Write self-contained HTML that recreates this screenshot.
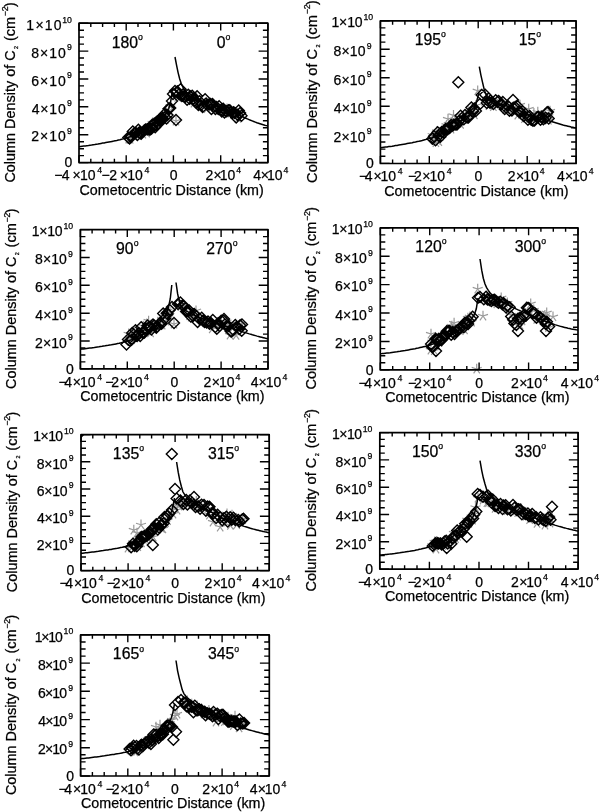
<!DOCTYPE html>
<html lang="en"><head><meta charset="utf-8"><title>Column Density of C2 vs Cometocentric Distance</title>
<style>html,body{margin:0;padding:0;background:#fff}body{width:600px;height:812px;overflow:hidden}svg{display:block}text{font-family:"Liberation Sans", Arial, Helvetica, sans-serif;fill:#000;stroke:#000;stroke-width:0.25px}</style></head><body>
<svg width="600" height="812" viewBox="0 0 600 812">
<rect width="600" height="812" fill="#fff"/>
<g>
<path d="M128.7 139.0L128.7 133.7M128.7 139.0L123.6 137.4M128.7 139.0L125.6 143.3M128.7 139.0L131.8 143.3M128.7 139.0L133.7 137.4 M130.1 139.3L130.1 134.0M130.1 139.3L125.1 137.6M130.1 139.3L127.0 143.5M130.1 139.3L133.3 143.5M130.1 139.3L135.2 137.6 M132.3 135.7L132.3 130.4M132.3 135.7L127.3 134.1M132.3 135.7L129.2 140.0M132.3 135.7L135.5 140.0M132.3 135.7L137.4 134.1 M134.0 136.1L134.0 130.8M134.0 136.1L129.0 134.4M134.0 136.1L130.9 140.4M134.0 136.1L137.1 140.4M134.0 136.1L139.1 134.4 M135.3 134.4L135.3 129.1M135.3 134.4L130.2 132.7M135.3 134.4L132.1 138.7M135.3 134.4L138.4 138.7M135.3 134.4L140.3 132.7 M137.0 134.6L137.0 129.3M137.0 134.6L132.0 133.0M137.0 134.6L133.9 138.9M137.0 134.6L140.2 138.9M137.0 134.6L142.1 133.0 M139.1 133.9L139.1 128.6M139.1 133.9L134.1 132.3M139.1 133.9L136.0 138.2M139.1 133.9L142.2 138.2M139.1 133.9L144.1 132.3 M140.6 131.8L140.6 126.5M140.6 131.8L135.6 130.2M140.6 131.8L137.5 136.1M140.6 131.8L143.7 136.1M140.6 131.8L145.7 130.2 M142.8 134.1L142.8 128.8M142.8 134.1L137.7 132.4M142.8 134.1L139.6 138.3M142.8 134.1L145.9 138.3M142.8 134.1L147.8 132.4 M144.2 129.9L144.2 124.6M144.2 129.9L139.2 128.2M144.2 129.9L141.1 134.1M144.2 129.9L147.3 134.1M144.2 129.9L149.3 128.2 M146.6 133.0L146.6 127.7M146.6 133.0L141.5 131.4M146.6 133.0L143.4 137.3M146.6 133.0L149.7 137.3M146.6 133.0L151.6 131.4 M147.6 129.7L147.6 124.4M147.6 129.7L142.5 128.1M147.6 129.7L144.4 134.0M147.6 129.7L150.7 134.0M147.6 129.7L152.6 128.1 M149.1 128.8L149.1 123.5M149.1 128.8L144.1 127.2M149.1 128.8L146.0 133.1M149.1 128.8L152.2 133.1M149.1 128.8L154.2 127.2 M151.5 127.2L151.5 121.9M151.5 127.2L146.5 125.5M151.5 127.2L148.4 131.4M151.5 127.2L154.7 131.4M151.5 127.2L156.6 125.5 M152.6 122.8L152.6 117.5M152.6 122.8L147.6 121.2M152.6 122.8L149.5 127.1M152.6 122.8L155.7 127.1M152.6 122.8L157.7 121.2 M154.5 122.6L154.5 117.3M154.5 122.6L149.5 121.0M154.5 122.6L151.4 126.9M154.5 122.6L157.6 126.9M154.5 122.6L159.6 121.0 M156.4 123.3L156.4 118.0M156.4 123.3L151.4 121.7M156.4 123.3L153.3 127.6M156.4 123.3L159.5 127.6M156.4 123.3L161.5 121.7 M157.8 121.9L157.8 116.6M157.8 121.9L152.8 120.3M157.8 121.9L154.7 126.2M157.8 121.9L160.9 126.2M157.8 121.9L162.8 120.3 M160.0 118.4L160.0 113.1M160.0 118.4L155.0 116.8M160.0 118.4L156.9 122.7M160.0 118.4L163.1 122.7M160.0 118.4L165.0 116.8 M161.6 119.6L161.6 114.3M161.6 119.6L156.6 117.9M161.6 119.6L158.5 123.9M161.6 119.6L164.7 123.9M161.6 119.6L166.7 117.9 M163.2 116.6L163.2 111.3M163.2 116.6L158.2 114.9M163.2 116.6L160.1 120.9M163.2 116.6L166.3 120.9M163.2 116.6L168.3 114.9 M165.2 119.5L165.2 114.2M165.2 119.5L160.1 117.9M165.2 119.5L162.1 123.8M165.2 119.5L168.3 123.8M165.2 119.5L170.2 117.9 M166.4 112.7L166.4 107.4M166.4 112.7L161.4 111.1M166.4 112.7L163.3 117.0M166.4 112.7L169.6 117.0M166.4 112.7L171.5 111.1 M168.8 110.5L168.8 105.2M168.8 110.5L163.8 108.9M168.8 110.5L165.7 114.8M168.8 110.5L171.9 114.8M168.8 110.5L173.8 108.9 M170.4 106.4L170.4 101.1M170.4 106.4L165.3 104.7M170.4 106.4L167.3 110.7M170.4 106.4L173.5 110.7M170.4 106.4L175.4 104.7 M177.7 97.4L177.7 92.1M177.7 97.4L172.7 95.7M177.7 97.4L174.6 101.7M177.7 97.4L180.8 101.7M177.7 97.4L182.7 95.7 M180.8 93.8L180.8 88.5M180.8 93.8L175.7 92.2M180.8 93.8L177.7 98.1M180.8 93.8L183.9 98.1M180.8 93.8L185.8 92.2 M183.5 94.1L183.5 88.8M183.5 94.1L178.4 92.5M183.5 94.1L180.4 98.4M183.5 94.1L186.6 98.4M183.5 94.1L188.5 92.5 M185.4 94.6L185.4 89.3M185.4 94.6L180.3 92.9M185.4 94.6L182.3 98.9M185.4 94.6L188.5 98.9M185.4 94.6L190.4 92.9 M188.8 95.0L188.8 89.7M188.8 95.0L183.8 93.4M188.8 95.0L185.7 99.3M188.8 95.0L191.9 99.3M188.8 95.0L193.9 93.4 M191.9 98.1L191.9 92.8M191.9 98.1L186.8 96.5M191.9 98.1L188.8 102.4M191.9 98.1L195.0 102.4M191.9 98.1L196.9 96.5 M194.0 103.1L194.0 97.8M194.0 103.1L189.0 101.4M194.0 103.1L190.9 107.3M194.0 103.1L197.2 107.3M194.0 103.1L199.1 101.4 M196.6 97.6L196.6 92.3M196.6 97.6L191.6 95.9M196.6 97.6L193.5 101.8M196.6 97.6L199.7 101.8M196.6 97.6L201.7 95.9 M199.8 103.5L199.8 98.2M199.8 103.5L194.8 101.8M199.8 103.5L196.7 107.8M199.8 103.5L202.9 107.8M199.8 103.5L204.8 101.8 M201.7 102.7L201.7 97.4M201.7 102.7L196.6 101.1M201.7 102.7L198.5 107.0M201.7 102.7L204.8 107.0M201.7 102.7L206.7 101.1 M204.6 103.5L204.6 98.2M204.6 103.5L199.6 101.9M204.6 103.5L201.5 107.8M204.6 103.5L207.7 107.8M204.6 103.5L209.7 101.9 M207.1 108.7L207.1 103.4M207.1 108.7L202.1 107.0M207.1 108.7L204.0 113.0M207.1 108.7L210.2 113.0M207.1 108.7L212.2 107.0 M209.2 105.5L209.2 100.2M209.2 105.5L204.1 103.8M209.2 105.5L206.0 109.8M209.2 105.5L212.3 109.8M209.2 105.5L214.2 103.8 M211.9 106.3L211.9 101.0M211.9 106.3L206.9 104.7M211.9 106.3L208.8 110.6M211.9 106.3L215.0 110.6M211.9 106.3L217.0 104.7 M214.6 107.0L214.6 101.7M214.6 107.0L209.6 105.4M214.6 107.0L211.5 111.3M214.6 107.0L217.8 111.3M214.6 107.0L219.7 105.4 M216.8 108.6L216.8 103.3M216.8 108.6L211.7 106.9M216.8 108.6L213.7 112.9M216.8 108.6L219.9 112.9M216.8 108.6L221.8 106.9 M220.3 109.6L220.3 104.3M220.3 109.6L215.3 107.9M220.3 109.6L217.2 113.9M220.3 109.6L223.4 113.9M220.3 109.6L225.4 107.9 M221.9 109.6L221.9 104.3M221.9 109.6L216.9 108.0M221.9 109.6L218.8 113.9M221.9 109.6L225.0 113.9M221.9 109.6L227.0 108.0 M225.7 112.7L225.7 107.4M225.7 112.7L220.6 111.0M225.7 112.7L222.6 117.0M225.7 112.7L228.8 117.0M225.7 112.7L230.7 111.0 M227.0 108.7L227.0 103.4M227.0 108.7L222.0 107.1M227.0 108.7L223.9 113.0M227.0 108.7L230.2 113.0M227.0 108.7L232.1 107.1 M230.9 113.1L230.9 107.8M230.9 113.1L225.9 111.4M230.9 113.1L227.8 117.4M230.9 113.1L234.0 117.4M230.9 113.1L235.9 111.4 M233.4 114.2L233.4 108.9M233.4 114.2L228.4 112.5M233.4 114.2L230.3 118.4M233.4 114.2L236.5 118.4M233.4 114.2L238.4 112.5 M235.4 112.5L235.4 107.2M235.4 112.5L230.3 110.9M235.4 112.5L232.3 116.8M235.4 112.5L238.5 116.8M235.4 112.5L240.4 110.9 M237.9 118.3L237.9 113.0M237.9 118.3L232.8 116.7M237.9 118.3L234.8 122.6M237.9 118.3L241.0 122.6M237.9 118.3L242.9 116.7 M240.2 112.0L240.2 106.7M240.2 112.0L235.1 110.4M240.2 112.0L237.0 116.3M240.2 112.0L243.3 116.3M240.2 112.0L245.2 110.4 M176.0 121.0L176.0 115.7M176.0 121.0L171.0 119.4M176.0 121.0L172.9 125.3M176.0 121.0L179.1 125.3M176.0 121.0L181.0 119.4" fill="none" stroke="#999" stroke-width="1.2"/>
<path d="M79.0 146.7 L80.6 146.5 L82.2 146.3 L83.7 146.1 L85.3 145.9 L86.9 145.7 L88.5 145.5 L90.0 145.2 L91.6 145.0 L93.2 144.7 L94.8 144.5 L96.3 144.2 L97.9 144.0 L99.5 143.7 L101.1 143.4 L102.6 143.1 L104.2 142.9 L105.8 142.6 L107.4 142.3 L108.9 142.0 L110.5 141.7 L112.1 141.4 L113.7 141.1 L115.3 140.7 L116.8 140.4 L118.4 140.0 L120.0 139.7 L121.6 139.3 L123.1 138.9 L124.7 138.5 L126.3 138.0 L127.9 137.5 L129.4 137.0 L131.0 136.5 L132.6 135.9 L134.2 135.3 L135.7 134.6 L137.3 133.9 L138.9 133.1 L140.5 132.4 L142.1 131.5 L143.6 130.7 L145.2 129.8 L146.8 128.9 L148.4 128.0 L149.9 127.0 L151.5 126.1 L153.1 125.1 L154.7 124.1 L156.2 123.1 L157.8 121.9 L159.4 120.7 L161.0 119.3 L162.5 117.8 L164.1 116.1 L165.7 114.1 L167.3 111.7 L168.8 108.3 L170.4 103.3 L172.0 93.0" fill="none" stroke="#000" stroke-width="1.5"/>
<path d="M175.0 57.0 L176.6 65.4 L178.1 72.6 L179.7 79.0 L181.3 83.8 L182.9 87.1 L184.4 89.7 L186.0 91.9 L187.6 93.8 L189.2 95.3 L190.7 96.5 L192.3 97.5 L193.9 98.4 L195.5 99.1 L197.0 99.8 L198.6 100.4 L200.2 101.1 L201.8 101.7 L203.3 102.3 L204.9 102.8 L206.5 103.3 L208.1 103.8 L209.6 104.3 L211.2 104.8 L212.8 105.3 L214.4 105.8 L215.9 106.3 L217.5 106.8 L219.1 107.3 L220.7 107.8 L222.2 108.3 L223.8 108.8 L225.4 109.3 L227.0 109.9 L228.5 110.4 L230.1 111.0 L231.7 111.7 L233.3 112.4 L234.8 113.1 L236.4 113.9 L238.0 114.6 L239.6 115.4 L241.1 116.1 L242.7 116.8 L244.3 117.5 L245.9 118.2 L247.4 118.9 L249.0 119.6 L250.6 120.3 L252.2 120.9 L253.7 121.5 L255.3 122.1 L256.9 122.7 L258.5 123.2 L260.0 123.7 L261.6 124.2 L263.2 124.7 L264.8 125.2 L266.3 125.6 L267.9 126.0" fill="none" stroke="#000" stroke-width="1.5"/>
<path d="M122.8 137.6L128.3 132.1L133.8 137.6L128.3 143.1Z M124.1 138.5L129.6 133.0L135.1 138.5L129.6 144.0Z M125.2 136.7L130.7 131.2L136.2 136.7L130.7 142.2Z M126.2 136.6L131.7 131.1L137.2 136.6L131.7 142.1Z M127.3 131.5L132.8 126.0L138.3 131.5L132.8 137.0Z M128.5 133.6L134.0 128.1L139.5 133.6L134.0 139.1Z M129.5 133.0L135.0 127.5L140.5 133.0L135.0 138.5Z M130.3 132.8L135.8 127.3L141.3 132.8L135.8 138.3Z M131.9 134.9L137.4 129.4L142.9 134.9L137.4 140.4Z M132.9 129.7L138.4 124.2L143.9 129.7L138.4 135.2Z M133.7 132.6L139.2 127.1L144.7 132.6L139.2 138.1Z M134.9 133.3L140.4 127.8L145.9 133.3L140.4 138.8Z M135.7 133.7L141.2 128.2L146.7 133.7L141.2 139.2Z M136.8 132.4L142.3 126.9L147.8 132.4L142.3 137.9Z M138.0 131.2L143.5 125.7L149.0 131.2L143.5 136.7Z M138.9 130.6L144.4 125.1L149.9 130.6L144.4 136.1Z M140.0 129.6L145.5 124.1L151.0 129.6L145.5 135.1Z M141.6 129.3L147.1 123.8L152.6 129.3L147.1 134.8Z M142.5 129.2L148.0 123.7L153.5 129.2L148.0 134.7Z M143.4 129.0L148.9 123.5L154.4 129.0L148.9 134.5Z M144.4 129.8L149.9 124.3L155.4 129.8L149.9 135.3Z M145.9 128.8L151.4 123.3L156.9 128.8L151.4 134.3Z M146.7 124.7L152.2 119.2L157.7 124.7L152.2 130.2Z M147.5 125.1L153.0 119.6L158.5 125.1L153.0 130.6Z M148.7 123.8L154.2 118.3L159.7 123.8L154.2 129.3Z M149.7 127.3L155.2 121.8L160.7 127.3L155.2 132.8Z M150.7 125.2L156.2 119.7L161.7 125.2L156.2 130.7Z M151.8 121.3L157.3 115.8L162.8 121.3L157.3 126.8Z M153.2 123.4L158.7 117.9L164.2 123.4L158.7 128.9Z M154.5 120.4L160.0 114.9L165.5 120.4L160.0 125.9Z M155.5 118.7L161.0 113.2L166.5 118.7L161.0 124.2Z M156.3 117.2L161.8 111.7L167.3 117.2L161.8 122.7Z M157.2 118.4L162.7 112.9L168.2 118.4L162.7 123.9Z M158.7 114.5L164.2 109.0L169.7 114.5L164.2 120.0Z M159.5 116.9L165.0 111.4L170.5 116.9L165.0 122.4Z M161.0 118.4L166.5 112.9L172.0 118.4L166.5 123.9Z M162.0 115.0L167.5 109.5L173.0 115.0L167.5 120.5Z M163.0 108.8L168.5 103.3L174.0 108.8L168.5 114.3Z M163.7 108.8L169.2 103.3L174.7 108.8L169.2 114.3Z M164.7 108.1L170.2 102.6L175.7 108.1L170.2 113.6Z M171.8 91.4L177.3 85.9L182.8 91.4L177.3 96.9Z M173.6 94.3L179.1 88.8L184.6 94.3L179.1 99.8Z M175.1 89.2L180.6 83.7L186.1 89.2L180.6 94.7Z M176.4 95.9L181.9 90.4L187.4 95.9L181.9 101.4Z M177.7 94.2L183.2 88.7L188.7 94.2L183.2 99.7Z M178.4 96.6L183.9 91.1L189.4 96.6L183.9 102.1Z M179.7 97.0L185.2 91.5L190.7 97.0L185.2 102.5Z M181.6 99.8L187.1 94.3L192.6 99.8L187.1 105.3Z M182.8 94.8L188.3 89.3L193.8 94.8L188.3 100.3Z M184.1 98.7L189.6 93.2L195.1 98.7L189.6 104.2Z M184.8 96.3L190.3 90.8L195.8 96.3L190.3 101.8Z M186.7 95.7L192.2 90.2L197.7 95.7L192.2 101.2Z M187.9 98.7L193.4 93.2L198.9 98.7L193.4 104.2Z M189.3 100.7L194.8 95.2L200.3 100.7L194.8 106.2Z M190.2 102.6L195.7 97.1L201.2 102.6L195.7 108.1Z M191.6 96.3L197.1 90.8L202.6 96.3L197.1 101.8Z M192.9 104.9L198.4 99.4L203.9 104.9L198.4 110.4Z M194.0 101.3L199.5 95.8L205.0 101.3L199.5 106.8Z M195.3 105.3L200.8 99.8L206.3 105.3L200.8 110.8Z M197.1 107.0L202.6 101.5L208.1 107.0L202.6 112.5Z M197.9 106.3L203.4 100.8L208.9 106.3L203.4 111.8Z M199.6 99.3L205.1 93.8L210.6 99.3L205.1 104.8Z M200.6 103.6L206.1 98.1L211.6 103.6L206.1 109.1Z M201.7 104.7L207.2 99.2L212.7 104.7L207.2 110.2Z M203.7 104.2L209.2 98.7L214.7 104.2L209.2 109.7Z M205.0 104.1L210.5 98.6L216.0 104.1L210.5 109.6Z M205.9 108.9L211.4 103.4L216.9 108.9L211.4 114.4Z M207.0 104.0L212.5 98.5L218.0 104.0L212.5 109.5Z M208.4 106.7L213.9 101.2L219.4 106.7L213.9 112.2Z M209.9 109.1L215.4 103.6L220.9 109.1L215.4 114.6Z M211.0 107.0L216.5 101.5L222.0 107.0L216.5 112.5Z M212.8 109.0L218.3 103.5L223.8 109.0L218.3 114.5Z M213.6 106.2L219.1 100.7L224.6 106.2L219.1 111.7Z M215.4 110.0L220.9 104.5L226.4 110.0L220.9 115.5Z M216.3 111.6L221.8 106.1L227.3 111.6L221.8 117.1Z M217.7 108.8L223.2 103.3L228.7 108.8L223.2 114.3Z M219.0 112.5L224.5 107.0L230.0 112.5L224.5 118.0Z M220.0 110.9L225.5 105.4L231.0 110.9L225.5 116.4Z M221.2 111.3L226.7 105.8L232.2 111.3L226.7 116.8Z M222.8 110.3L228.3 104.8L233.8 110.3L228.3 115.8Z M224.3 110.3L229.8 104.8L235.3 110.3L229.8 115.8Z M225.5 111.7L231.0 106.2L236.5 111.7L231.0 117.2Z M226.8 112.9L232.3 107.4L237.8 112.9L232.3 118.4Z M228.1 112.2L233.6 106.7L239.1 112.2L233.6 117.7Z M229.2 112.9L234.7 107.4L240.2 112.9L234.7 118.4Z M230.7 117.4L236.2 111.9L241.7 117.4L236.2 122.9Z M232.0 114.7L237.5 109.2L243.0 114.7L237.5 120.2Z M233.2 110.5L238.7 105.0L244.2 110.5L238.7 116.0Z M234.6 113.0L240.1 107.5L245.6 113.0L240.1 118.5Z M236.0 115.7L241.5 110.2L247.0 115.7L241.5 121.2Z M166.5 101.0L172.0 95.5L177.5 101.0L172.0 106.5Z M167.5 94.0L173.0 88.5L178.5 94.0L173.0 99.5Z M169.5 91.0L175.0 85.5L180.5 91.0L175.0 96.5Z M170.5 120.0L176.0 114.5L181.5 120.0L176.0 125.5Z" fill="none" stroke="#000" stroke-width="1.4" stroke-linejoin="miter"/>
<rect x="79.0" y="23.2" width="188.9" height="139.4" fill="none" stroke="#000" stroke-width="1.7" stroke-linejoin="round"/>
<path d="M79.0 162.6v-7.4M79.0 23.2v7.4M90.8 162.6v-3.9M90.8 23.2v3.9M102.6 162.6v-3.9M102.6 23.2v3.9M114.4 162.6v-3.9M114.4 23.2v3.9M126.2 162.6v-7.4M126.2 23.2v7.4M138.0 162.6v-3.9M138.0 23.2v3.9M149.8 162.6v-3.9M149.8 23.2v3.9M161.6 162.6v-3.9M161.6 23.2v3.9M173.4 162.6v-7.4M173.4 23.2v7.4M185.3 162.6v-3.9M185.3 23.2v3.9M197.1 162.6v-3.9M197.1 23.2v3.9M208.9 162.6v-3.9M208.9 23.2v3.9M220.7 162.6v-7.4M220.7 23.2v7.4M232.5 162.6v-3.9M232.5 23.2v3.9M244.3 162.6v-3.9M244.3 23.2v3.9M256.1 162.6v-3.9M256.1 23.2v3.9M267.9 162.6v-7.4M267.9 23.2v7.4M79.0 162.6h9.3M267.9 162.6h-9.3M79.0 155.6h5.0M267.9 155.6h-5.0M79.0 148.7h5.0M267.9 148.7h-5.0M79.0 141.7h5.0M267.9 141.7h-5.0M79.0 134.7h9.3M267.9 134.7h-9.3M79.0 127.8h5.0M267.9 127.8h-5.0M79.0 120.8h5.0M267.9 120.8h-5.0M79.0 113.8h5.0M267.9 113.8h-5.0M79.0 106.8h9.3M267.9 106.8h-9.3M79.0 99.9h5.0M267.9 99.9h-5.0M79.0 92.9h5.0M267.9 92.9h-5.0M79.0 85.9h5.0M267.9 85.9h-5.0M79.0 79.0h9.3M267.9 79.0h-9.3M79.0 72.0h5.0M267.9 72.0h-5.0M79.0 65.0h5.0M267.9 65.0h-5.0M79.0 58.0h5.0M267.9 58.0h-5.0M79.0 51.1h9.3M267.9 51.1h-9.3M79.0 44.1h5.0M267.9 44.1h-5.0M79.0 37.1h5.0M267.9 37.1h-5.0M79.0 30.2h5.0M267.9 30.2h-5.0M79.0 23.2h9.3M267.9 23.2h-9.3" fill="none" stroke="#000" stroke-width="1.4"/>
<text x="54.20" y="180.40" font-size="14.0" textLength="15.33" lengthAdjust="spacing">−4</text><text x="72.42" y="180.40" font-size="14.0">×</text><text x="95.57" y="180.40" font-size="14.0" text-anchor="end">10</text><text x="97.18" y="173.40" font-size="8.7">4</text>
<text x="101.42" y="180.40" font-size="14.0" textLength="15.61" lengthAdjust="spacing">−2</text><text x="119.64" y="180.40" font-size="14.0">×</text><text x="142.80" y="180.40" font-size="14.0" text-anchor="end">10</text><text x="144.41" y="173.40" font-size="8.7">4</text>
<text x="169.64" y="180.40" font-size="14.0">0</text>
<text x="205.58" y="180.40" font-size="14.0">2</text><text x="213.59" y="180.40" font-size="14.0">×</text><text x="235.35" y="180.40" font-size="14.0" text-anchor="end">10</text><text x="236.36" y="173.40" font-size="8.7">4</text>
<text x="253.15" y="180.40" font-size="14.0">4</text><text x="260.82" y="180.40" font-size="14.0">×</text><text x="282.57" y="180.40" font-size="14.0" text-anchor="end">10</text><text x="283.58" y="173.40" font-size="8.7">4</text>
<text x="64.54" y="167.40" font-size="14.0">0</text>
<text x="31.30" y="141.42" font-size="14.0" textLength="34.47" lengthAdjust="spacing">2×10</text><text x="67.01" y="134.12" font-size="8.7">9</text>
<text x="31.65" y="113.54" font-size="14.0" textLength="34.12" lengthAdjust="spacing">4×10</text><text x="67.01" y="106.24" font-size="8.7">9</text>
<text x="31.30" y="85.66" font-size="14.0" textLength="34.47" lengthAdjust="spacing">6×10</text><text x="67.01" y="78.36" font-size="8.7">9</text>
<text x="31.37" y="57.78" font-size="14.0" textLength="34.40" lengthAdjust="spacing">8×10</text><text x="67.01" y="50.48" font-size="8.7">9</text>
<text x="26.36" y="29.90" font-size="14.0" textLength="35.31" lengthAdjust="spacing">1×10</text><text x="71.96" y="22.60" font-size="8.7" text-anchor="end">10</text>
<text x="79.50" y="194.70" font-size="14.0" textLength="184.28" lengthAdjust="spacingAndGlyphs">Cometocentric Distance (km)</text>
<g transform="translate(14.6 182.6) rotate(-90) scale(1.0 1)"><text x="0" y="0" font-size="14.0" textLength="132.3" lengthAdjust="spacingAndGlyphs">Column Density of C</text><text x="133.6" y="3.3" font-size="5.4">2</text><text x="141.5" y="0" font-size="14.0" textLength="24.2" lengthAdjust="spacingAndGlyphs">(cm</text><text x="166.4" y="-6.2" font-size="8.7">−2</text><text x="175.6" y="0" font-size="14.0">)</text></g>
<text x="111.66" y="47.70" font-size="15.8">180</text>
<text x="138.03" y="39.90" font-size="8.7">o</text>
<text x="216.77" y="47.70" font-size="15.8">0</text>
<text x="225.56" y="39.90" font-size="8.7">o</text>
</g>
<g>
<path d="M432.7 135.2L432.7 129.9M432.7 135.2L427.7 133.5M432.7 135.2L429.6 139.5M432.7 135.2L435.8 139.5M432.7 135.2L437.7 133.5 M434.6 137.1L434.6 131.8M434.6 137.1L429.6 135.5M434.6 137.1L431.5 141.4M434.6 137.1L437.7 141.4M434.6 137.1L439.7 135.5 M435.9 142.7L435.9 137.4M435.9 142.7L430.9 141.1M435.9 142.7L432.8 147.0M435.9 142.7L439.0 147.0M435.9 142.7L440.9 141.1 M437.0 131.4L437.0 126.1M437.0 131.4L432.0 129.7M437.0 131.4L433.9 135.7M437.0 131.4L440.1 135.7M437.0 131.4L442.0 129.7 M438.8 141.5L438.8 136.2M438.8 141.5L433.7 139.8M438.8 141.5L435.6 145.8M438.8 141.5L441.9 145.8M438.8 141.5L443.8 139.8 M439.9 132.9L439.9 127.6M439.9 132.9L434.8 131.3M439.9 132.9L436.8 137.2M439.9 132.9L443.0 137.2M439.9 132.9L444.9 131.3 M441.3 133.0L441.3 127.7M441.3 133.0L436.3 131.3M441.3 133.0L438.2 137.2M441.3 133.0L444.5 137.2M441.3 133.0L446.4 131.3 M442.9 133.4L442.9 128.1M442.9 133.4L437.9 131.7M442.9 133.4L439.8 137.7M442.9 133.4L446.1 137.7M442.9 133.4L448.0 131.7 M444.3 129.2L444.3 123.9M444.3 129.2L439.2 127.5M444.3 129.2L441.2 133.4M444.3 129.2L447.4 133.4M444.3 129.2L449.3 127.5 M446.5 125.2L446.5 119.9M446.5 125.2L441.5 123.6M446.5 125.2L443.4 129.5M446.5 125.2L449.6 129.5M446.5 125.2L451.6 123.6 M447.3 128.5L447.3 123.2M447.3 128.5L442.3 126.9M447.3 128.5L444.2 132.8M447.3 128.5L450.5 132.8M447.3 128.5L452.4 126.9 M448.8 123.9L448.8 118.6M448.8 123.9L443.8 122.2M448.8 123.9L445.7 128.2M448.8 123.9L451.9 128.2M448.8 123.9L453.9 122.2 M451.0 129.1L451.0 123.8M451.0 129.1L445.9 127.5M451.0 129.1L447.9 133.4M451.0 129.1L454.1 133.4M451.0 129.1L456.0 127.5 M452.5 125.3L452.5 120.0M452.5 125.3L447.5 123.7M452.5 125.3L449.4 129.6M452.5 125.3L455.6 129.6M452.5 125.3L457.6 123.7 M453.5 115.4L453.5 110.1M453.5 115.4L448.5 113.8M453.5 115.4L450.4 119.7M453.5 115.4L456.6 119.7M453.5 115.4L458.6 113.8 M455.4 124.5L455.4 119.2M455.4 124.5L450.4 122.8M455.4 124.5L452.3 128.8M455.4 124.5L458.5 128.8M455.4 124.5L460.4 122.8 M456.3 119.5L456.3 114.2M456.3 119.5L451.2 117.9M456.3 119.5L453.2 123.8M456.3 119.5L459.4 123.8M456.3 119.5L461.3 117.9 M457.9 123.4L457.9 118.1M457.9 123.4L452.9 121.8M457.9 123.4L454.8 127.7M457.9 123.4L461.0 127.7M457.9 123.4L463.0 121.8 M459.3 118.6L459.3 113.3M459.3 118.6L454.3 117.0M459.3 118.6L456.2 122.9M459.3 118.6L462.4 122.9M459.3 118.6L464.3 117.0 M460.6 124.4L460.6 119.1M460.6 124.4L455.6 122.8M460.6 124.4L457.5 128.7M460.6 124.4L463.7 128.7M460.6 124.4L465.7 122.8 M462.6 117.7L462.6 112.4M462.6 117.7L457.6 116.1M462.6 117.7L459.5 122.0M462.6 117.7L465.7 122.0M462.6 117.7L467.6 116.1 M463.9 117.6L463.9 112.3M463.9 117.6L458.8 115.9M463.9 117.6L460.8 121.9M463.9 117.6L467.0 121.9M463.9 117.6L468.9 115.9 M465.6 114.9L465.6 109.6M465.6 114.9L460.6 113.3M465.6 114.9L462.5 119.2M465.6 114.9L468.8 119.2M465.6 114.9L470.7 113.3 M467.4 114.7L467.4 109.4M467.4 114.7L462.4 113.1M467.4 114.7L464.3 119.0M467.4 114.7L470.6 119.0M467.4 114.7L472.5 113.1 M468.8 115.4L468.8 110.1M468.8 115.4L463.7 113.7M468.8 115.4L465.6 119.7M468.8 115.4L471.9 119.7M468.8 115.4L473.8 113.7 M469.8 112.9L469.8 107.6M469.8 112.9L464.7 111.3M469.8 112.9L466.7 117.2M469.8 112.9L472.9 117.2M469.8 112.9L474.8 111.3 M471.1 112.7L471.1 107.4M471.1 112.7L466.0 111.0M471.1 112.7L468.0 117.0M471.1 112.7L474.2 117.0M471.1 112.7L476.1 111.0 M472.6 108.6L472.6 103.3M472.6 108.6L467.6 106.9M472.6 108.6L469.5 112.8M472.6 108.6L475.8 112.8M472.6 108.6L477.7 106.9 M474.4 114.8L474.4 109.5M474.4 114.8L469.4 113.1M474.4 114.8L471.3 119.1M474.4 114.8L477.5 119.1M474.4 114.8L479.4 113.1 M475.7 105.6L475.7 100.3M475.7 105.6L470.7 104.0M475.7 105.6L472.6 109.9M475.7 105.6L478.9 109.9M475.7 105.6L480.8 104.0 M484.6 101.5L484.6 96.2M484.6 101.5L479.6 99.8M484.6 101.5L481.5 105.7M484.6 101.5L487.8 105.7M484.6 101.5L489.7 99.8 M487.6 98.4L487.6 93.1M487.6 98.4L482.5 96.8M487.6 98.4L484.4 102.7M487.6 98.4L490.7 102.7M487.6 98.4L492.6 96.8 M489.0 105.6L489.0 100.3M489.0 105.6L483.9 104.0M489.0 105.6L485.8 109.9M489.0 105.6L492.1 109.9M489.0 105.6L494.0 104.0 M491.6 103.7L491.6 98.4M491.6 103.7L486.6 102.0M491.6 103.7L488.5 108.0M491.6 103.7L494.7 108.0M491.6 103.7L496.6 102.0 M493.3 106.6L493.3 101.3M493.3 106.6L488.3 105.0M493.3 106.6L490.2 110.9M493.3 106.6L496.5 110.9M493.3 106.6L498.4 105.0 M496.5 101.4L496.5 96.1M496.5 101.4L491.5 99.8M496.5 101.4L493.4 105.7M496.5 101.4L499.6 105.7M496.5 101.4L501.5 99.8 M497.8 104.1L497.8 98.8M497.8 104.1L492.7 102.5M497.8 104.1L494.6 108.4M497.8 104.1L500.9 108.4M497.8 104.1L502.8 102.5 M501.0 103.4L501.0 98.1M501.0 103.4L495.9 101.7M501.0 103.4L497.9 107.6M501.0 103.4L504.1 107.6M501.0 103.4L506.0 101.7 M502.6 102.6L502.6 97.3M502.6 102.6L497.6 101.0M502.6 102.6L499.5 106.9M502.6 102.6L505.8 106.9M502.6 102.6L507.7 101.0 M505.5 109.0L505.5 103.7M505.5 109.0L500.4 107.4M505.5 109.0L502.3 113.3M505.5 109.0L508.6 113.3M505.5 109.0L510.5 107.4 M506.8 108.7L506.8 103.4M506.8 108.7L501.8 107.0M506.8 108.7L503.7 113.0M506.8 108.7L509.9 113.0M506.8 108.7L511.8 107.0 M509.0 109.5L509.0 104.2M509.0 109.5L503.9 107.8M509.0 109.5L505.8 113.8M509.0 109.5L512.1 113.8M509.0 109.5L514.0 107.8 M511.0 107.8L511.0 102.5M511.0 107.8L505.9 106.2M511.0 107.8L507.9 112.1M511.0 107.8L514.1 112.1M511.0 107.8L516.0 106.2 M513.3 109.0L513.3 103.7M513.3 109.0L508.3 107.3M513.3 109.0L510.2 113.3M513.3 109.0L516.4 113.3M513.3 109.0L518.3 107.3 M515.7 107.2L515.7 101.9M515.7 107.2L510.6 105.6M515.7 107.2L512.5 111.5M515.7 107.2L518.8 111.5M515.7 107.2L520.7 105.6 M517.8 115.1L517.8 109.8M517.8 115.1L512.8 113.4M517.8 115.1L514.7 119.4M517.8 115.1L520.9 119.4M517.8 115.1L522.9 113.4 M520.3 112.4L520.3 107.1M520.3 112.4L515.3 110.8M520.3 112.4L517.2 116.7M520.3 112.4L523.4 116.7M520.3 112.4L525.3 110.8 M521.9 114.6L521.9 109.3M521.9 114.6L516.8 112.9M521.9 114.6L518.7 118.9M521.9 114.6L525.0 118.9M521.9 114.6L526.9 112.9 M524.4 118.7L524.4 113.4M524.4 118.7L519.3 117.1M524.4 118.7L521.3 123.0M524.4 118.7L527.5 123.0M524.4 118.7L529.4 117.1 M527.0 116.0L527.0 110.7M527.0 116.0L521.9 114.3M527.0 116.0L523.9 120.3M527.0 116.0L530.1 120.3M527.0 116.0L532.0 114.3 M528.7 109.0L528.7 103.7M528.7 109.0L523.6 107.4M528.7 109.0L525.6 113.3M528.7 109.0L531.8 113.3M528.7 109.0L533.7 107.4 M530.8 117.9L530.8 112.6M530.8 117.9L525.7 116.3M530.8 117.9L527.7 122.2M530.8 117.9L533.9 122.2M530.8 117.9L535.8 116.3 M533.9 113.4L533.9 108.1M533.9 113.4L528.9 111.8M533.9 113.4L530.8 117.7M533.9 113.4L537.0 117.7M533.9 113.4L539.0 111.8 M536.1 118.4L536.1 113.1M536.1 118.4L531.1 116.8M536.1 118.4L533.0 122.7M536.1 118.4L539.3 122.7M536.1 118.4L541.2 116.8 M537.8 112.0L537.8 106.7M537.8 112.0L532.7 110.4M537.8 112.0L534.6 116.3M537.8 112.0L540.9 116.3M537.8 112.0L542.8 110.4 M540.7 116.9L540.7 111.6M540.7 116.9L535.7 115.2M540.7 116.9L537.6 121.1M540.7 116.9L543.9 121.1M540.7 116.9L545.8 115.2 M542.1 119.7L542.1 114.4M542.1 119.7L537.1 118.1M542.1 119.7L539.0 124.0M542.1 119.7L545.2 124.0M542.1 119.7L547.1 118.1 M544.7 113.6L544.7 108.3M544.7 113.6L539.6 111.9M544.7 113.6L541.6 117.9M544.7 113.6L547.8 117.9M544.7 113.6L549.7 111.9 M546.6 118.0L546.6 112.7M546.6 118.0L541.5 116.3M546.6 118.0L543.5 122.3M546.6 118.0L549.7 122.3M546.6 118.0L551.6 116.3 M548.4 120.2L548.4 114.9M548.4 120.2L543.4 118.6M548.4 120.2L545.3 124.5M548.4 120.2L551.5 124.5M548.4 120.2L553.5 118.6 M448.0 119.0L448.0 113.7M448.0 119.0L443.0 117.4M448.0 119.0L444.9 123.3M448.0 119.0L451.1 123.3M448.0 119.0L453.0 117.4 M477.7 90.7L477.7 85.4M477.7 90.7L472.7 89.1M477.7 90.7L474.6 95.0M477.7 90.7L480.8 95.0M477.7 90.7L482.7 89.1 M550.0 111.0L550.0 105.7M550.0 111.0L545.0 109.4M550.0 111.0L546.9 115.3M550.0 111.0L553.1 115.3M550.0 111.0L555.0 109.4 M437.0 140.0L437.0 134.7M437.0 140.0L432.0 138.4M437.0 140.0L433.9 144.3M437.0 140.0L440.1 144.3M437.0 140.0L442.0 138.4 M520.0 105.0L520.0 99.7M520.0 105.0L515.0 103.4M520.0 105.0L516.9 109.3M520.0 105.0L523.1 109.3M520.0 105.0L525.0 103.4" fill="none" stroke="#999" stroke-width="1.2"/>
<path d="M380.4 147.7 L382.1 147.5 L383.7 147.3 L385.4 147.1 L387.1 146.9 L388.8 146.6 L390.4 146.4 L392.1 146.2 L393.8 145.9 L395.4 145.6 L397.1 145.4 L398.8 145.1 L400.5 144.8 L402.1 144.5 L403.8 144.2 L405.5 143.9 L407.1 143.6 L408.8 143.3 L410.5 143.0 L412.2 142.7 L413.8 142.3 L415.5 142.0 L417.2 141.6 L418.8 141.3 L420.5 140.9 L422.2 140.5 L423.9 140.0 L425.5 139.6 L427.2 139.1 L428.9 138.6 L430.5 138.1 L432.2 137.6 L433.9 137.0 L435.5 136.3 L437.2 135.6 L438.9 134.8 L440.6 134.0 L442.2 133.2 L443.9 132.4 L445.6 131.5 L447.2 130.6 L448.9 129.6 L450.6 128.7 L452.3 127.6 L453.9 126.5 L455.6 125.3 L457.3 124.1 L458.9 122.8 L460.6 121.5 L462.3 120.2 L464.0 118.8 L465.6 117.5 L467.3 116.3 L469.0 115.2 L470.6 113.9 L472.3 112.3 L474.0 110.0 L475.7 105.1 L477.3 98.9 L479.0 93.0" fill="none" stroke="#000" stroke-width="1.5"/>
<path d="M479.3 66.7 L480.9 75.1 L482.6 82.6 L484.2 89.5 L485.9 94.2 L487.5 97.4 L489.1 99.0 L490.8 100.1 L492.4 100.9 L494.1 101.6 L495.7 102.3 L497.3 103.0 L499.0 103.6 L500.6 104.1 L502.3 104.6 L503.9 105.1 L505.6 105.6 L507.2 106.1 L508.8 106.6 L510.5 107.1 L512.1 107.7 L513.8 108.3 L515.4 108.9 L517.0 109.6 L518.7 110.3 L520.3 111.0 L522.0 111.7 L523.6 112.5 L525.2 113.2 L526.9 113.8 L528.5 114.5 L530.2 115.1 L531.8 115.6 L533.4 116.1 L535.1 116.7 L536.7 117.2 L538.4 117.6 L540.0 118.1 L541.6 118.6 L543.3 119.1 L544.9 119.5 L546.6 120.0 L548.2 120.5 L549.8 121.0 L551.5 121.5 L553.1 122.0 L554.8 122.5 L556.4 123.0 L558.1 123.5 L559.7 124.0 L561.3 124.5 L563.0 125.0 L564.6 125.4 L566.3 125.8 L567.9 126.2 L569.5 126.6 L571.2 127.0 L572.8 127.3 L574.5 127.7 L576.1 128.0" fill="none" stroke="#000" stroke-width="1.5"/>
<path d="M426.9 138.8L432.4 133.3L437.9 138.8L432.4 144.3Z M428.5 136.3L434.0 130.8L439.5 136.3L434.0 141.8Z M430.0 140.2L435.5 134.7L441.0 140.2L435.5 145.7Z M432.1 132.2L437.6 126.7L443.1 132.2L437.6 137.7Z M433.2 135.8L438.7 130.3L444.2 135.8L438.7 141.3Z M434.9 136.8L440.4 131.3L445.9 136.8L440.4 142.3Z M436.2 132.0L441.7 126.5L447.2 132.0L441.7 137.5Z M438.5 132.8L444.0 127.3L449.5 132.8L444.0 138.3Z M440.0 129.1L445.5 123.6L451.0 129.1L445.5 134.6Z M441.6 129.2L447.1 123.7L452.6 129.2L447.1 134.7Z M442.5 129.0L448.0 123.5L453.5 129.0L448.0 134.5Z M444.1 128.0L449.6 122.5L455.1 128.0L449.6 133.5Z M445.7 125.0L451.2 119.5L456.7 125.0L451.2 130.5Z M447.3 125.6L452.8 120.1L458.3 125.6L452.8 131.1Z M448.4 124.7L453.9 119.2L459.4 124.7L453.9 130.2Z M450.3 124.5L455.8 119.0L461.3 124.5L455.8 130.0Z M451.5 124.6L457.0 119.1L462.5 124.6L457.0 130.1Z M453.2 121.5L458.7 116.0L464.2 121.5L458.7 127.0Z M455.1 115.7L460.6 110.2L466.1 115.7L460.6 121.2Z M456.7 117.8L462.2 112.3L467.7 117.8L462.2 123.3Z M458.3 119.2L463.8 113.7L469.3 119.2L463.8 124.7Z M459.5 114.9L465.0 109.4L470.5 114.9L465.0 120.4Z M461.6 117.4L467.1 111.9L472.6 117.4L467.1 122.9Z M462.9 117.4L468.4 111.9L473.9 117.4L468.4 122.9Z M463.8 116.2L469.3 110.7L474.8 116.2L469.3 121.7Z M465.9 107.4L471.4 101.9L476.9 107.4L471.4 112.9Z M467.6 111.3L473.1 105.8L478.6 111.3L473.1 116.8Z M468.9 108.5L474.4 103.0L479.9 108.5L474.4 114.0Z M470.4 110.9L475.9 105.4L481.4 110.9L475.9 116.4Z M479.7 94.7L485.2 89.2L490.7 94.7L485.2 100.2Z M481.3 103.0L486.8 97.5L492.3 103.0L486.8 108.5Z M483.2 98.6L488.7 93.1L494.2 98.6L488.7 104.1Z M484.5 102.7L490.0 97.2L495.5 102.7L490.0 108.2Z M486.4 102.3L491.9 96.8L497.4 102.3L491.9 107.8Z M487.9 104.0L493.4 98.5L498.9 104.0L493.4 109.5Z M490.2 100.2L495.7 94.7L501.2 100.2L495.7 105.7Z M492.0 102.1L497.5 96.6L503.0 102.1L497.5 107.6Z M493.1 101.0L498.6 95.5L504.1 101.0L498.6 106.5Z M495.8 104.3L501.3 98.8L506.8 104.3L501.3 109.8Z M497.3 101.9L502.8 96.4L508.3 101.9L502.8 107.4Z M499.2 109.1L504.7 103.6L510.2 109.1L504.7 114.6Z M500.5 107.4L506.0 101.9L511.5 107.4L506.0 112.9Z M502.1 105.8L507.6 100.3L513.1 105.8L507.6 111.3Z M504.0 110.8L509.5 105.3L515.0 110.8L509.5 116.3Z M506.4 110.5L511.9 105.0L517.4 110.5L511.9 116.0Z M507.8 107.7L513.3 102.2L518.8 107.7L513.3 113.2Z M509.7 107.1L515.2 101.6L520.7 107.1L515.2 112.6Z M511.6 105.8L517.1 100.3L522.6 105.8L517.1 111.3Z M513.4 111.7L518.9 106.2L524.4 111.7L518.9 117.2Z M514.8 111.8L520.3 106.3L525.8 111.8L520.3 117.3Z M517.1 111.3L522.6 105.8L528.1 111.3L522.6 116.8Z M518.1 116.1L523.6 110.6L529.1 116.1L523.6 121.6Z M519.9 113.9L525.4 108.4L530.9 113.9L525.4 119.4Z M522.4 119.7L527.9 114.2L533.4 119.7L527.9 125.2Z M524.2 115.9L529.7 110.4L535.2 115.9L529.7 121.4Z M525.7 119.7L531.2 114.2L536.7 119.7L531.2 125.2Z M527.5 120.7L533.0 115.2L538.5 120.7L533.0 126.2Z M529.0 120.4L534.5 114.9L540.0 120.4L534.5 125.9Z M531.6 117.3L537.1 111.8L542.6 117.3L537.1 122.8Z M532.9 116.7L538.4 111.2L543.9 116.7L538.4 122.2Z M535.0 119.7L540.5 114.2L546.0 119.7L540.5 125.2Z M536.2 116.7L541.7 111.2L547.2 116.7L541.7 122.2Z M537.9 119.2L543.4 113.7L548.9 119.2L543.4 124.7Z M540.1 117.7L545.6 112.2L551.1 117.7L545.6 123.2Z M541.4 112.6L546.9 107.1L552.4 112.6L546.9 118.1Z M543.2 118.5L548.7 113.0L554.2 118.5L548.7 124.0Z M476.2 95.0L481.7 89.5L487.2 95.0L481.7 100.5Z M474.5 104.0L480.0 98.5L485.5 104.0L480.0 109.5Z M452.8 82.3L458.3 76.8L463.8 82.3L458.3 87.8Z M507.5 100.0L513.0 94.5L518.5 100.0L513.0 105.5Z M542.5 112.0L548.0 106.5L553.5 112.0L548.0 117.5Z" fill="none" stroke="#000" stroke-width="1.4" stroke-linejoin="miter"/>
<rect x="380.4" y="20.8" width="195.7" height="142.7" fill="none" stroke="#000" stroke-width="1.7" stroke-linejoin="round"/>
<path d="M380.4 163.4v-7.4M380.4 20.8v7.4M392.6 163.4v-3.9M392.6 20.8v3.9M404.9 163.4v-3.9M404.9 20.8v3.9M417.1 163.4v-3.9M417.1 20.8v3.9M429.3 163.4v-7.4M429.3 20.8v7.4M441.6 163.4v-3.9M441.6 20.8v3.9M453.8 163.4v-3.9M453.8 20.8v3.9M466.0 163.4v-3.9M466.0 20.8v3.9M478.2 163.4v-7.4M478.2 20.8v7.4M490.5 163.4v-3.9M490.5 20.8v3.9M502.7 163.4v-3.9M502.7 20.8v3.9M514.9 163.4v-3.9M514.9 20.8v3.9M527.2 163.4v-7.4M527.2 20.8v7.4M539.4 163.4v-3.9M539.4 20.8v3.9M551.6 163.4v-3.9M551.6 20.8v3.9M563.9 163.4v-3.9M563.9 20.8v3.9M576.1 163.4v-7.4M576.1 20.8v7.4M380.4 163.4h9.3M576.1 163.4h-9.3M380.4 156.3h5.0M576.1 156.3h-5.0M380.4 149.1h5.0M576.1 149.1h-5.0M380.4 142.0h5.0M576.1 142.0h-5.0M380.4 134.9h9.3M576.1 134.9h-9.3M380.4 127.7h5.0M576.1 127.7h-5.0M380.4 120.6h5.0M576.1 120.6h-5.0M380.4 113.5h5.0M576.1 113.5h-5.0M380.4 106.3h9.3M576.1 106.3h-9.3M380.4 99.2h5.0M576.1 99.2h-5.0M380.4 92.1h5.0M576.1 92.1h-5.0M380.4 84.9h5.0M576.1 84.9h-5.0M380.4 77.8h9.3M576.1 77.8h-9.3M380.4 70.7h5.0M576.1 70.7h-5.0M380.4 63.5h5.0M576.1 63.5h-5.0M380.4 56.4h5.0M576.1 56.4h-5.0M380.4 49.3h9.3M576.1 49.3h-9.3M380.4 42.1h5.0M576.1 42.1h-5.0M380.4 35.0h5.0M576.1 35.0h-5.0M380.4 27.9h5.0M576.1 27.9h-5.0M380.4 20.8h9.3M576.1 20.8h-9.3" fill="none" stroke="#000" stroke-width="1.4"/>
<text x="359.00" y="181.20" font-size="14.0" textLength="13.53" lengthAdjust="spacing">−4</text><text x="373.42" y="181.20" font-size="14.0">×</text><text x="396.17" y="181.20" font-size="14.0" text-anchor="end">10</text><text x="397.78" y="174.20" font-size="8.7">4</text>
<text x="407.93" y="181.20" font-size="14.0" textLength="13.81" lengthAdjust="spacing">−2</text><text x="422.34" y="181.20" font-size="14.0">×</text><text x="445.10" y="181.20" font-size="14.0" text-anchor="end">10</text><text x="446.71" y="174.20" font-size="8.7">4</text>
<text x="474.44" y="181.20" font-size="14.0">0</text>
<text x="507.77" y="181.20" font-size="14.0">2</text><text x="516.00" y="181.20" font-size="14.0">×</text><text x="538.75" y="181.20" font-size="14.0" text-anchor="end">10</text><text x="539.86" y="174.20" font-size="8.7">4</text>
<text x="557.05" y="181.20" font-size="14.0">4</text><text x="564.92" y="181.20" font-size="14.0">×</text><text x="587.67" y="181.20" font-size="14.0" text-anchor="end">10</text><text x="588.78" y="174.20" font-size="8.7">4</text>
<text x="365.94" y="168.20" font-size="14.0">0</text>
<text x="333.50" y="141.57" font-size="14.0" textLength="32.07" lengthAdjust="spacing">2×10</text><text x="366.81" y="134.27" font-size="8.7">9</text>
<text x="333.85" y="113.04" font-size="14.0" textLength="31.72" lengthAdjust="spacing">4×10</text><text x="366.81" y="105.74" font-size="8.7">9</text>
<text x="333.50" y="84.51" font-size="14.0" textLength="32.07" lengthAdjust="spacing">6×10</text><text x="366.81" y="77.21" font-size="8.7">9</text>
<text x="333.57" y="55.98" font-size="14.0" textLength="32.00" lengthAdjust="spacing">8×10</text><text x="366.81" y="48.68" font-size="8.7">9</text>
<text x="331.46" y="27.45" font-size="14.0" textLength="31.11" lengthAdjust="spacing">1×10</text><text x="373.06" y="20.15" font-size="8.7" text-anchor="end">10</text>
<text x="384.30" y="195.50" font-size="14.0" textLength="184.28" lengthAdjust="spacingAndGlyphs">Cometocentric Distance (km)</text>
<g transform="translate(316.5 182.9) rotate(-90) scale(1.013 1)"><text x="0" y="0" font-size="14.0" textLength="132.3" lengthAdjust="spacingAndGlyphs">Column Density of C</text><text x="133.6" y="3.3" font-size="5.4">2</text><text x="141.5" y="0" font-size="14.0" textLength="24.2" lengthAdjust="spacingAndGlyphs">(cm</text><text x="166.4" y="-6.2" font-size="8.7">−2</text><text x="175.6" y="0" font-size="14.0">)</text></g>
<text x="414.66" y="45.25" font-size="15.8">195</text>
<text x="440.97" y="37.45" font-size="8.7">o</text>
<text x="518.66" y="45.25" font-size="15.8">15</text>
<text x="536.18" y="37.45" font-size="8.7">o</text>
</g>
<g>
<path d="M128.7 333.9L128.7 328.6M128.7 333.9L123.6 332.3M128.7 333.9L125.6 338.2M128.7 333.9L131.8 338.2M128.7 333.9L133.7 332.3 M130.3 337.7L130.3 332.4M130.3 337.7L125.2 336.1M130.3 337.7L127.1 342.0M130.3 337.7L133.4 342.0M130.3 337.7L135.3 336.1 M131.5 339.5L131.5 334.2M131.5 339.5L126.4 337.9M131.5 339.5L128.4 343.8M131.5 339.5L134.6 343.8M131.5 339.5L136.5 337.9 M133.0 334.5L133.0 329.2M133.0 334.5L127.9 332.9M133.0 334.5L129.9 338.8M133.0 334.5L136.1 338.8M133.0 334.5L138.0 332.9 M134.6 332.5L134.6 327.2M134.6 332.5L129.6 330.8M134.6 332.5L131.5 336.8M134.6 332.5L137.8 336.8M134.6 332.5L139.7 330.8 M136.6 334.2L136.6 328.9M136.6 334.2L131.6 332.6M136.6 334.2L133.5 338.5M136.6 334.2L139.8 338.5M136.6 334.2L141.7 332.6 M138.2 332.1L138.2 326.8M138.2 332.1L133.1 330.5M138.2 332.1L135.1 336.4M138.2 332.1L141.3 336.4M138.2 332.1L143.2 330.5 M140.6 334.0L140.6 328.7M140.6 334.0L135.6 332.3M140.6 334.0L137.5 338.3M140.6 334.0L143.7 338.3M140.6 334.0L145.6 332.3 M141.4 331.8L141.4 326.5M141.4 331.8L136.4 330.1M141.4 331.8L138.3 336.1M141.4 331.8L144.6 336.1M141.4 331.8L146.5 330.1 M143.3 326.1L143.3 320.8M143.3 326.1L138.2 324.5M143.3 326.1L140.1 330.4M143.3 326.1L146.4 330.4M143.3 326.1L148.3 324.5 M145.8 328.4L145.8 323.1M145.8 328.4L140.7 326.7M145.8 328.4L142.7 332.7M145.8 328.4L148.9 332.7M145.8 328.4L150.8 326.7 M146.8 323.8L146.8 318.5M146.8 323.8L141.8 322.2M146.8 323.8L143.7 328.1M146.8 323.8L150.0 328.1M146.8 323.8L151.9 322.2 M148.6 321.0L148.6 315.7M148.6 321.0L143.6 319.4M148.6 321.0L145.5 325.3M148.6 321.0L151.7 325.3M148.6 321.0L153.7 319.4 M150.5 332.9L150.5 327.6M150.5 332.9L145.5 331.3M150.5 332.9L147.4 337.2M150.5 332.9L153.7 337.2M150.5 332.9L155.6 331.3 M152.0 324.7L152.0 319.4M152.0 324.7L147.0 323.1M152.0 324.7L148.9 329.0M152.0 324.7L155.1 329.0M152.0 324.7L157.0 323.1 M153.4 326.8L153.4 321.5M153.4 326.8L148.3 325.1M153.4 326.8L150.3 331.1M153.4 326.8L156.5 331.1M153.4 326.8L158.4 325.1 M155.1 326.2L155.1 320.9M155.1 326.2L150.1 324.5M155.1 326.2L152.0 330.4M155.1 326.2L158.3 330.4M155.1 326.2L160.2 324.5 M157.7 322.0L157.7 316.7M157.7 322.0L152.7 320.4M157.7 322.0L154.6 326.3M157.7 322.0L160.8 326.3M157.7 322.0L162.7 320.4 M158.7 322.9L158.7 317.6M158.7 322.9L153.7 321.3M158.7 322.9L155.6 327.2M158.7 322.9L161.8 327.2M158.7 322.9L163.7 321.3 M160.3 324.9L160.3 319.6M160.3 324.9L155.3 323.3M160.3 324.9L157.2 329.2M160.3 324.9L163.4 329.2M160.3 324.9L165.4 323.3 M162.2 325.1L162.2 319.8M162.2 325.1L157.2 323.5M162.2 325.1L159.1 329.4M162.2 325.1L165.3 329.4M162.2 325.1L167.3 323.5 M164.4 316.3L164.4 311.0M164.4 316.3L159.3 314.7M164.4 316.3L161.3 320.6M164.4 316.3L167.5 320.6M164.4 316.3L169.4 314.7 M165.9 321.0L165.9 315.7M165.9 321.0L160.8 319.4M165.9 321.0L162.8 325.3M165.9 321.0L169.0 325.3M165.9 321.0L170.9 319.4 M167.5 310.7L167.5 305.4M167.5 310.7L162.5 309.0M167.5 310.7L164.4 315.0M167.5 310.7L170.6 315.0M167.5 310.7L172.5 309.0 M169.4 314.8L169.4 309.5M169.4 314.8L164.3 313.2M169.4 314.8L166.3 319.1M169.4 314.8L172.5 319.1M169.4 314.8L174.4 313.2 M181.2 306.4L181.2 301.1M181.2 306.4L176.1 304.8M181.2 306.4L178.1 310.7M181.2 306.4L184.3 310.7M181.2 306.4L186.2 304.8 M184.2 306.9L184.2 301.6M184.2 306.9L179.1 305.3M184.2 306.9L181.0 311.2M184.2 306.9L187.3 311.2M184.2 306.9L189.2 305.3 M185.6 308.0L185.6 302.7M185.6 308.0L180.6 306.4M185.6 308.0L182.5 312.3M185.6 308.0L188.7 312.3M185.6 308.0L190.7 306.4 M189.5 315.7L189.5 310.4M189.5 315.7L184.4 314.1M189.5 315.7L186.4 320.0M189.5 315.7L192.6 320.0M189.5 315.7L194.5 314.1 M191.1 317.1L191.1 311.8M191.1 317.1L186.1 315.5M191.1 317.1L188.0 321.4M191.1 317.1L194.2 321.4M191.1 317.1L196.1 315.5 M193.6 315.9L193.6 310.6M193.6 315.9L188.5 314.3M193.6 315.9L190.4 320.2M193.6 315.9L196.7 320.2M193.6 315.9L198.6 314.3 M196.0 310.7L196.0 305.4M196.0 310.7L191.0 309.0M196.0 310.7L192.9 314.9M196.0 310.7L199.1 314.9M196.0 310.7L201.1 309.0 M199.1 317.7L199.1 312.4M199.1 317.7L194.1 316.0M199.1 317.7L196.0 322.0M199.1 317.7L202.3 322.0M199.1 317.7L204.2 316.0 M201.3 322.5L201.3 317.2M201.3 322.5L196.2 320.9M201.3 322.5L198.1 326.8M201.3 322.5L204.4 326.8M201.3 322.5L206.3 320.9 M203.4 321.2L203.4 315.9M203.4 321.2L198.4 319.5M203.4 321.2L200.3 325.5M203.4 321.2L206.6 325.5M203.4 321.2L208.5 319.5 M207.1 323.0L207.1 317.7M207.1 323.0L202.0 321.3M207.1 323.0L204.0 327.3M207.1 323.0L210.2 327.3M207.1 323.0L212.1 321.3 M209.0 323.3L209.0 318.0M209.0 323.3L203.9 321.7M209.0 323.3L205.9 327.6M209.0 323.3L212.1 327.6M209.0 323.3L214.0 321.7 M212.3 328.9L212.3 323.6M212.3 328.9L207.2 327.2M212.3 328.9L209.1 333.2M212.3 328.9L215.4 333.2M212.3 328.9L217.3 327.2 M213.9 325.0L213.9 319.7M213.9 325.0L208.9 323.3M213.9 325.0L210.8 329.3M213.9 325.0L217.1 329.3M213.9 325.0L219.0 323.3 M215.9 325.2L215.9 319.9M215.9 325.2L210.9 323.5M215.9 325.2L212.8 329.5M215.9 325.2L219.0 329.5M215.9 325.2L221.0 323.5 M218.8 324.5L218.8 319.2M218.8 324.5L213.8 322.9M218.8 324.5L215.7 328.8M218.8 324.5L221.9 328.8M218.8 324.5L223.9 322.9 M221.2 323.2L221.2 317.9M221.2 323.2L216.2 321.5M221.2 323.2L218.1 327.4M221.2 323.2L224.3 327.4M221.2 323.2L226.3 321.5 M224.2 325.7L224.2 320.4M224.2 325.7L219.2 324.1M224.2 325.7L221.1 330.0M224.2 325.7L227.3 330.0M224.2 325.7L229.2 324.1 M226.5 321.7L226.5 316.4M226.5 321.7L221.4 320.0M226.5 321.7L223.4 326.0M226.5 321.7L229.6 326.0M226.5 321.7L231.5 320.0 M229.0 324.1L229.0 318.8M229.0 324.1L224.0 322.4M229.0 324.1L225.9 328.4M229.0 324.1L232.1 328.4M229.0 324.1L234.1 322.4 M231.4 327.1L231.4 321.8M231.4 327.1L226.4 325.5M231.4 327.1L228.3 331.4M231.4 327.1L234.5 331.4M231.4 327.1L236.5 325.5 M233.5 327.1L233.5 321.8M233.5 327.1L228.5 325.5M233.5 327.1L230.4 331.4M233.5 327.1L236.6 331.4M233.5 327.1L238.6 325.5 M236.1 335.3L236.1 330.0M236.1 335.3L231.1 333.7M236.1 335.3L233.0 339.6M236.1 335.3L239.2 339.6M236.1 335.3L241.2 333.7 M239.2 325.3L239.2 320.0M239.2 325.3L234.2 323.7M239.2 325.3L236.1 329.6M239.2 325.3L242.3 329.6M239.2 325.3L244.3 323.7 M241.3 323.9L241.3 318.6M241.3 323.9L236.3 322.2M241.3 323.9L238.2 328.1M241.3 323.9L244.4 328.1M241.3 323.9L246.4 322.2 M174.0 324.0L174.0 318.7M174.0 324.0L169.0 322.4M174.0 324.0L170.9 328.3M174.0 324.0L177.1 328.3M174.0 324.0L179.0 322.4 M170.0 312.0L170.0 306.7M170.0 312.0L165.0 310.4M170.0 312.0L166.9 316.3M170.0 312.0L173.1 316.3M170.0 312.0L175.0 310.4 M230.0 335.0L230.0 329.7M230.0 335.0L225.0 333.4M230.0 335.0L226.9 339.3M230.0 335.0L233.1 339.3M230.0 335.0L235.0 333.4" fill="none" stroke="#999" stroke-width="1.2"/>
<path d="M80.4 349.3 L81.9 349.1 L83.5 348.9 L85.0 348.7 L86.6 348.5 L88.1 348.3 L89.7 348.1 L91.2 347.9 L92.8 347.7 L94.3 347.5 L95.9 347.2 L97.4 347.0 L99.0 346.8 L100.5 346.5 L102.1 346.3 L103.6 346.0 L105.2 345.8 L106.7 345.5 L108.3 345.3 L109.8 345.0 L111.4 344.8 L112.9 344.5 L114.5 344.2 L116.0 343.9 L117.6 343.6 L119.1 343.3 L120.7 342.9 L122.2 342.5 L123.8 342.1 L125.3 341.7 L126.9 341.2 L128.4 340.7 L130.0 340.2 L131.5 339.6 L133.1 338.9 L134.6 338.3 L136.2 337.5 L137.7 336.8 L139.3 336.0 L140.8 335.2 L142.4 334.4 L143.9 333.6 L145.5 332.7 L147.0 331.9 L148.6 330.9 L150.1 330.0 L151.7 328.9 L153.2 327.8 L154.8 326.7 L156.3 325.4 L157.9 324.1 L159.4 322.6 L161.0 321.0 L162.5 319.3 L164.1 317.3 L165.6 314.8 L167.2 311.6 L168.7 306.4 L170.3 298.5 L171.8 285.0" fill="none" stroke="#000" stroke-width="1.5"/>
<path d="M176.0 282.5 L177.6 293.7 L179.1 300.8 L180.7 305.5 L182.2 307.6 L183.8 309.1 L185.4 310.3 L186.9 311.3 L188.5 312.2 L190.0 313.0 L191.6 313.9 L193.2 314.7 L194.7 315.5 L196.3 316.2 L197.8 316.8 L199.4 317.5 L200.9 318.1 L202.5 318.7 L204.1 319.3 L205.6 319.9 L207.2 320.4 L208.7 321.0 L210.3 321.5 L211.9 321.9 L213.4 322.4 L215.0 322.9 L216.5 323.3 L218.1 323.8 L219.7 324.3 L221.2 324.8 L222.8 325.3 L224.3 325.8 L225.9 326.3 L227.5 326.8 L229.0 327.3 L230.6 327.9 L232.1 328.4 L233.7 328.9 L235.3 329.5 L236.8 330.0 L238.4 330.5 L239.9 331.0 L241.5 331.5 L243.1 332.0 L244.6 332.4 L246.2 332.9 L247.7 333.4 L249.3 333.9 L250.8 334.3 L252.4 334.8 L254.0 335.2 L255.5 335.6 L257.1 336.1 L258.6 336.5 L260.2 336.9 L261.8 337.3 L263.3 337.7 L264.9 338.1 L266.4 338.4 L268.0 338.8" fill="none" stroke="#000" stroke-width="1.5"/>
<path d="M122.5 339.6L128.0 334.1L133.5 339.6L128.0 345.1Z M124.2 340.7L129.7 335.2L135.2 340.7L129.7 346.2Z M126.1 339.7L131.6 334.2L137.1 339.7L131.6 345.2Z M126.7 333.1L132.2 327.6L137.7 333.1L132.2 338.6Z M128.2 334.6L133.7 329.1L139.2 334.6L133.7 340.1Z M130.0 330.2L135.5 324.7L141.0 330.2L135.5 335.7Z M131.6 336.1L137.1 330.6L142.6 336.1L137.1 341.6Z M133.4 333.0L138.9 327.5L144.4 333.0L138.9 338.5Z M134.7 336.0L140.2 330.5L145.7 336.0L140.2 341.5Z M135.7 327.2L141.2 321.7L146.7 327.2L141.2 332.7Z M137.0 332.7L142.5 327.2L148.0 332.7L142.5 338.2Z M139.0 332.4L144.5 326.9L150.0 332.4L144.5 337.9Z M140.7 328.8L146.2 323.3L151.7 328.8L146.2 334.3Z M142.0 325.6L147.5 320.1L153.0 325.6L147.5 331.1Z M143.2 327.6L148.7 322.1L154.2 327.6L148.7 333.1Z M145.0 327.1L150.5 321.6L156.0 327.1L150.5 332.6Z M145.9 329.6L151.4 324.1L156.9 329.6L151.4 335.1Z M147.5 324.6L153.0 319.1L158.5 324.6L153.0 330.1Z M148.8 325.5L154.3 320.0L159.8 325.5L154.3 331.0Z M150.8 327.7L156.3 322.2L161.8 327.7L156.3 333.2Z M151.7 326.5L157.2 321.0L162.7 326.5L157.2 332.0Z M153.6 324.1L159.1 318.6L164.6 324.1L159.1 329.6Z M154.9 322.4L160.4 316.9L165.9 322.4L160.4 327.9Z M156.0 323.8L161.5 318.3L167.0 323.8L161.5 329.3Z M157.7 313.6L163.2 308.1L168.7 313.6L163.2 319.1Z M159.5 318.4L165.0 312.9L170.5 318.4L165.0 323.9Z M161.2 313.3L166.7 307.8L172.2 313.3L166.7 318.8Z M162.1 313.9L167.6 308.4L173.1 313.9L167.6 319.4Z M164.2 310.0L169.7 304.5L175.2 310.0L169.7 315.5Z M174.9 302.6L180.4 297.1L185.9 302.6L180.4 308.1Z M177.1 305.5L182.6 300.0L188.1 305.5L182.6 311.0Z M178.5 306.0L184.0 300.5L189.5 306.0L184.0 311.5Z M180.6 311.6L186.1 306.1L191.6 311.6L186.1 317.1Z M181.7 310.7L187.2 305.2L192.7 310.7L187.2 316.2Z M183.7 310.6L189.2 305.1L194.7 310.6L189.2 316.1Z M185.3 316.4L190.8 310.9L196.3 316.4L190.8 321.9Z M187.6 316.0L193.1 310.5L198.6 316.0L193.1 321.5Z M188.7 314.1L194.2 308.6L199.7 314.1L194.2 319.6Z M191.2 316.2L196.7 310.7L202.2 316.2L196.7 321.7Z M192.1 321.9L197.6 316.4L203.1 321.9L197.6 327.4Z M193.8 318.8L199.3 313.3L204.8 318.8L199.3 324.3Z M196.2 317.8L201.7 312.3L207.2 317.8L201.7 323.3Z M197.5 320.7L203.0 315.2L208.5 320.7L203.0 326.2Z M199.1 322.1L204.6 316.6L210.1 322.1L204.6 327.6Z M201.1 322.5L206.6 317.0L212.1 322.5L206.6 328.0Z M202.5 321.5L208.0 316.0L213.5 321.5L208.0 327.0Z M204.0 323.7L209.5 318.2L215.0 323.7L209.5 329.2Z M205.5 322.9L211.0 317.4L216.5 322.9L211.0 328.4Z M207.3 320.0L212.8 314.5L218.3 320.0L212.8 325.5Z M209.8 326.9L215.3 321.4L220.8 326.9L215.3 332.4Z M211.3 328.8L216.8 323.3L222.3 328.8L216.8 334.3Z M212.6 323.2L218.1 317.7L223.6 323.2L218.1 328.7Z M214.2 326.0L219.7 320.5L225.2 326.0L219.7 331.5Z M215.7 320.7L221.2 315.2L226.7 320.7L221.2 326.2Z M218.1 320.7L223.6 315.2L229.1 320.7L223.6 326.2Z M219.4 324.5L224.9 319.0L230.4 324.5L224.9 330.0Z M221.0 326.2L226.5 320.7L232.0 326.2L226.5 331.7Z M222.9 326.1L228.4 320.6L233.9 326.1L228.4 331.6Z M225.2 331.3L230.7 325.8L236.2 331.3L230.7 336.8Z M226.1 331.6L231.6 326.1L237.1 331.6L231.6 337.1Z M228.0 330.0L233.5 324.5L239.0 330.0L233.5 335.5Z M229.8 325.0L235.3 319.5L240.8 325.0L235.3 330.5Z M231.1 326.8L236.6 321.3L242.1 326.8L236.6 332.3Z M233.7 329.1L239.2 323.6L244.7 329.1L239.2 334.6Z M234.6 325.2L240.1 319.7L245.6 325.2L240.1 330.7Z M236.2 330.7L241.7 325.2L247.2 330.7L241.7 336.2Z M172.5 304.0L178.0 298.5L183.5 304.0L178.0 309.5Z M166.5 307.0L172.0 301.5L177.5 307.0L172.0 312.5Z M168.5 323.0L174.0 317.5L179.5 323.0L174.0 328.5Z M121.0 344.5L126.5 339.0L132.0 344.5L126.5 350.0Z M218.5 319.0L224.0 313.5L229.5 319.0L224.0 324.5Z M236.5 324.6L242.0 319.1L247.5 324.6L242.0 330.1Z" fill="none" stroke="#000" stroke-width="1.4" stroke-linejoin="miter"/>
<rect x="80.4" y="229.6" width="187.6" height="139.3" fill="none" stroke="#000" stroke-width="1.7" stroke-linejoin="round"/>
<path d="M80.4 368.9v-7.4M80.4 229.6v7.4M92.1 368.9v-3.9M92.1 229.6v3.9M103.9 368.9v-3.9M103.9 229.6v3.9M115.6 368.9v-3.9M115.6 229.6v3.9M127.3 368.9v-7.4M127.3 229.6v7.4M139.0 368.9v-3.9M139.0 229.6v3.9M150.8 368.9v-3.9M150.8 229.6v3.9M162.5 368.9v-3.9M162.5 229.6v3.9M174.2 368.9v-7.4M174.2 229.6v7.4M185.9 368.9v-3.9M185.9 229.6v3.9M197.7 368.9v-3.9M197.7 229.6v3.9M209.4 368.9v-3.9M209.4 229.6v3.9M221.1 368.9v-7.4M221.1 229.6v7.4M232.8 368.9v-3.9M232.8 229.6v3.9M244.6 368.9v-3.9M244.6 229.6v3.9M256.3 368.9v-3.9M256.3 229.6v3.9M268.0 368.9v-7.4M268.0 229.6v7.4M80.4 368.9h9.3M268.0 368.9h-9.3M80.4 361.9h5.0M268.0 361.9h-5.0M80.4 355.0h5.0M268.0 355.0h-5.0M80.4 348.0h5.0M268.0 348.0h-5.0M80.4 341.0h9.3M268.0 341.0h-9.3M80.4 334.1h5.0M268.0 334.1h-5.0M80.4 327.1h5.0M268.0 327.1h-5.0M80.4 320.1h5.0M268.0 320.1h-5.0M80.4 313.2h9.3M268.0 313.2h-9.3M80.4 306.2h5.0M268.0 306.2h-5.0M80.4 299.2h5.0M268.0 299.2h-5.0M80.4 292.3h5.0M268.0 292.3h-5.0M80.4 285.3h9.3M268.0 285.3h-9.3M80.4 278.4h5.0M268.0 278.4h-5.0M80.4 271.4h5.0M268.0 271.4h-5.0M80.4 264.4h5.0M268.0 264.4h-5.0M80.4 257.5h9.3M268.0 257.5h-9.3M80.4 250.5h5.0M268.0 250.5h-5.0M80.4 243.5h5.0M268.0 243.5h-5.0M80.4 236.6h5.0M268.0 236.6h-5.0M80.4 229.6h9.3M268.0 229.6h-9.3" fill="none" stroke="#000" stroke-width="1.4"/>
<text x="58.40" y="386.70" font-size="14.0" textLength="13.53" lengthAdjust="spacing">−4</text><text x="72.82" y="386.70" font-size="14.0">×</text><text x="95.57" y="386.70" font-size="14.0" text-anchor="end">10</text><text x="97.18" y="379.70" font-size="8.7">4</text>
<text x="105.30" y="386.70" font-size="14.0" textLength="13.81" lengthAdjust="spacing">−2</text><text x="119.72" y="386.70" font-size="14.0">×</text><text x="142.47" y="386.70" font-size="14.0" text-anchor="end">10</text><text x="144.08" y="379.70" font-size="8.7">4</text>
<text x="170.39" y="386.70" font-size="14.0">0</text>
<text x="203.50" y="386.70" font-size="14.0">2</text><text x="211.72" y="386.70" font-size="14.0">×</text><text x="234.47" y="386.70" font-size="14.0" text-anchor="end">10</text><text x="235.58" y="379.70" font-size="8.7">4</text>
<text x="250.75" y="386.70" font-size="14.0">4</text><text x="258.62" y="386.70" font-size="14.0">×</text><text x="281.37" y="386.70" font-size="14.0" text-anchor="end">10</text><text x="282.48" y="379.70" font-size="8.7">4</text>
<text x="65.94" y="373.70" font-size="14.0">0</text>
<text x="35.00" y="347.74" font-size="14.0" textLength="31.87" lengthAdjust="spacing">2×10</text><text x="68.11" y="340.44" font-size="8.7">9</text>
<text x="35.35" y="319.88" font-size="14.0" textLength="31.52" lengthAdjust="spacing">4×10</text><text x="68.11" y="312.58" font-size="8.7">9</text>
<text x="35.00" y="292.02" font-size="14.0" textLength="31.87" lengthAdjust="spacing">6×10</text><text x="68.11" y="284.72" font-size="8.7">9</text>
<text x="35.07" y="264.16" font-size="14.0" textLength="31.80" lengthAdjust="spacing">8×10</text><text x="68.11" y="256.86" font-size="8.7">9</text>
<text x="31.66" y="236.30" font-size="14.0" textLength="30.91" lengthAdjust="spacing">1×10</text><text x="73.06" y="229.00" font-size="8.7" text-anchor="end">10</text>
<text x="80.25" y="401.00" font-size="14.0" textLength="184.28" lengthAdjust="spacingAndGlyphs">Cometocentric Distance (km)</text>
<g transform="translate(16.0 388.9) rotate(-90) scale(1.0 1)"><text x="0" y="0" font-size="14.0" textLength="132.3" lengthAdjust="spacingAndGlyphs">Column Density of C</text><text x="133.6" y="3.3" font-size="5.4">2</text><text x="141.5" y="0" font-size="14.0" textLength="24.2" lengthAdjust="spacingAndGlyphs">(cm</text><text x="166.4" y="-6.2" font-size="8.7">−2</text><text x="175.6" y="0" font-size="14.0">)</text></g>
<text x="116.09" y="254.10" font-size="15.8">90</text>
<text x="133.67" y="246.30" font-size="8.7">o</text>
<text x="206.31" y="254.10" font-size="15.8">270</text>
<text x="232.68" y="246.30" font-size="8.7">o</text>
</g>
<g>
<path d="M430.9 350.0L430.9 344.7M430.9 350.0L425.8 348.4M430.9 350.0L427.8 354.3M430.9 350.0L434.0 354.3M430.9 350.0L435.9 348.4 M432.4 341.7L432.4 336.4M432.4 341.7L427.4 340.1M432.4 341.7L429.3 346.0M432.4 341.7L435.5 346.0M432.4 341.7L437.4 340.1 M434.3 350.7L434.3 345.4M434.3 350.7L429.3 349.1M434.3 350.7L431.2 355.0M434.3 350.7L437.5 355.0M434.3 350.7L439.4 349.1 M436.6 344.9L436.6 339.6M436.6 344.9L431.5 343.3M436.6 344.9L433.4 349.2M436.6 344.9L439.7 349.2M436.6 344.9L441.6 343.3 M439.1 342.2L439.1 336.9M439.1 342.2L434.0 340.6M439.1 342.2L436.0 346.5M439.1 342.2L442.2 346.5M439.1 342.2L444.1 340.6 M440.5 337.2L440.5 331.9M440.5 337.2L435.4 335.5M440.5 337.2L437.4 341.5M440.5 337.2L443.6 341.5M440.5 337.2L445.5 335.5 M443.2 334.7L443.2 329.4M443.2 334.7L438.2 333.1M443.2 334.7L440.1 339.0M443.2 334.7L446.4 339.0M443.2 334.7L448.3 333.1 M444.9 333.6L444.9 328.3M444.9 333.6L439.9 332.0M444.9 333.6L441.8 337.9M444.9 333.6L448.0 337.9M444.9 333.6L450.0 332.0 M446.4 334.1L446.4 328.8M446.4 334.1L441.4 332.5M446.4 334.1L443.3 338.4M446.4 334.1L449.5 338.4M446.4 334.1L451.4 332.5 M448.9 333.1L448.9 327.8M448.9 333.1L443.8 331.4M448.9 333.1L445.8 337.4M448.9 333.1L452.0 337.4M448.9 333.1L453.9 331.4 M451.0 327.0L451.0 321.7M451.0 327.0L446.0 325.4M451.0 327.0L447.9 331.3M451.0 327.0L454.1 331.3M451.0 327.0L456.1 325.4 M451.9 326.0L451.9 320.7M451.9 326.0L446.9 324.4M451.9 326.0L448.8 330.3M451.9 326.0L455.0 330.3M451.9 326.0L457.0 324.4 M454.1 323.0L454.1 317.7M454.1 323.0L449.1 321.4M454.1 323.0L451.0 327.3M454.1 323.0L457.2 327.3M454.1 323.0L459.2 321.4 M456.9 330.3L456.9 325.0M456.9 330.3L451.9 328.6M456.9 330.3L453.8 334.6M456.9 330.3L460.0 334.6M456.9 330.3L462.0 328.6 M458.2 328.5L458.2 323.2M458.2 328.5L453.2 326.9M458.2 328.5L455.1 332.8M458.2 328.5L461.3 332.8M458.2 328.5L463.2 326.9 M460.3 330.7L460.3 325.4M460.3 330.7L455.2 329.1M460.3 330.7L457.2 335.0M460.3 330.7L463.4 335.0M460.3 330.7L465.3 329.1 M462.8 328.4L462.8 323.1M462.8 328.4L457.7 326.7M462.8 328.4L459.6 332.7M462.8 328.4L465.9 332.7M462.8 328.4L467.8 326.7 M464.5 329.9L464.5 324.6M464.5 329.9L459.4 328.3M464.5 329.9L461.4 334.2M464.5 329.9L467.6 334.2M464.5 329.9L469.5 328.3 M466.5 323.9L466.5 318.6M466.5 323.9L461.5 322.3M466.5 323.9L463.4 328.2M466.5 323.9L469.7 328.2M466.5 323.9L471.6 322.3 M467.9 318.0L467.9 312.7M467.9 318.0L462.9 316.4M467.9 318.0L464.8 322.3M467.9 318.0L471.0 322.3M467.9 318.0L473.0 316.4 M469.9 316.7L469.9 311.4M469.9 316.7L464.8 315.1M469.9 316.7L466.7 321.0M469.9 316.7L473.0 321.0M469.9 316.7L474.9 315.1 M471.5 322.0L471.5 316.7M471.5 322.0L466.5 320.4M471.5 322.0L468.4 326.3M471.5 322.0L474.6 326.3M471.5 322.0L476.6 320.4 M483.9 298.3L483.9 293.0M483.9 298.3L478.9 296.7M483.9 298.3L480.8 302.6M483.9 298.3L487.0 302.6M483.9 298.3L489.0 296.7 M486.6 296.7L486.6 291.4M486.6 296.7L481.6 295.1M486.6 296.7L483.5 301.0M486.6 296.7L489.7 301.0M486.6 296.7L491.6 295.1 M489.5 297.2L489.5 291.9M489.5 297.2L484.4 295.5M489.5 297.2L486.4 301.4M489.5 297.2L492.6 301.4M489.5 297.2L494.5 295.5 M494.0 299.9L494.0 294.6M494.0 299.9L489.0 298.2M494.0 299.9L490.9 304.2M494.0 299.9L497.2 304.2M494.0 299.9L499.1 298.2 M496.8 303.8L496.8 298.5M496.8 303.8L491.7 302.1M496.8 303.8L493.7 308.1M496.8 303.8L499.9 308.1M496.8 303.8L501.8 302.1 M498.3 301.6L498.3 296.3M498.3 301.6L493.3 300.0M498.3 301.6L495.2 305.9M498.3 301.6L501.4 305.9M498.3 301.6L503.3 300.0 M501.2 297.8L501.2 292.5M501.2 297.8L496.2 296.1M501.2 297.8L498.1 302.1M501.2 297.8L504.3 302.1M501.2 297.8L506.3 296.1 M504.8 303.9L504.8 298.6M504.8 303.9L499.7 302.3M504.8 303.9L501.6 308.2M504.8 303.9L507.9 308.2M504.8 303.9L509.8 302.3 M507.3 302.9L507.3 297.6M507.3 302.9L502.3 301.3M507.3 302.9L504.2 307.2M507.3 302.9L510.4 307.2M507.3 302.9L512.3 301.3 M511.0 315.0L511.0 309.7M511.0 315.0L505.9 313.4M511.0 315.0L507.9 319.3M511.0 315.0L514.1 319.3M511.0 315.0L516.0 313.4 M514.0 321.9L514.0 316.6M514.0 321.9L509.0 320.2M514.0 321.9L510.9 326.2M514.0 321.9L517.1 326.2M514.0 321.9L519.1 320.2 M515.8 318.6L515.8 313.3M515.8 318.6L510.8 317.0M515.8 318.6L512.7 322.9M515.8 318.6L519.0 322.9M515.8 318.6L520.9 317.0 M520.0 318.9L520.0 313.6M520.0 318.9L515.0 317.3M520.0 318.9L516.9 323.2M520.0 318.9L523.1 323.2M520.0 318.9L525.0 317.3 M522.1 320.8L522.1 315.5M522.1 320.8L517.1 319.1M522.1 320.8L519.0 325.1M522.1 320.8L525.2 325.1M522.1 320.8L527.1 319.1 M525.7 313.4L525.7 308.1M525.7 313.4L520.6 311.8M525.7 313.4L522.5 317.7M525.7 313.4L528.8 317.7M525.7 313.4L530.7 311.8 M527.7 312.4L527.7 307.1M527.7 312.4L522.7 310.8M527.7 312.4L524.6 316.7M527.7 312.4L530.8 316.7M527.7 312.4L532.7 310.8 M530.5 312.0L530.5 306.7M530.5 312.0L525.4 310.4M530.5 312.0L527.3 316.3M530.5 312.0L533.6 316.3M530.5 312.0L535.5 310.4 M533.7 309.8L533.7 304.5M533.7 309.8L528.6 308.2M533.7 309.8L530.6 314.1M533.7 309.8L536.8 314.1M533.7 309.8L538.7 308.2 M536.7 319.3L536.7 314.0M536.7 319.3L531.7 317.7M536.7 319.3L533.6 323.6M536.7 319.3L539.8 323.6M536.7 319.3L541.8 317.7 M539.3 318.2L539.3 312.9M539.3 318.2L534.3 316.6M539.3 318.2L536.2 322.5M539.3 318.2L542.5 322.5M539.3 318.2L544.4 316.6 M543.3 316.4L543.3 311.1M543.3 316.4L538.2 314.7M543.3 316.4L540.1 320.7M543.3 316.4L546.4 320.7M543.3 316.4L548.3 314.7 M544.9 315.3L544.9 310.0M544.9 315.3L539.9 313.7M544.9 315.3L541.8 319.6M544.9 315.3L548.1 319.6M544.9 315.3L550.0 313.7 M548.5 327.6L548.5 322.3M548.5 327.6L543.5 326.0M548.5 327.6L545.4 331.9M548.5 327.6L551.6 331.9M548.5 327.6L553.5 326.0 M431.0 334.0L431.0 328.7M431.0 334.0L426.0 332.4M431.0 334.0L427.9 338.3M431.0 334.0L434.1 338.3M431.0 334.0L436.0 332.4 M477.7 289.0L477.7 283.7M477.7 289.0L472.7 287.4M477.7 289.0L474.6 293.3M477.7 289.0L480.8 293.3M477.7 289.0L482.7 287.4 M483.0 316.0L483.0 310.7M483.0 316.0L478.0 314.4M483.0 316.0L479.9 320.3M483.0 316.0L486.1 320.3M483.0 316.0L488.0 314.4 M530.7 303.7L530.7 298.4M530.7 303.7L525.7 302.1M530.7 303.7L527.6 308.0M530.7 303.7L533.8 308.0M530.7 303.7L535.7 302.1 M546.7 312.7L546.7 307.4M546.7 312.7L541.7 311.1M546.7 312.7L543.6 317.0M546.7 312.7L549.8 317.0M546.7 312.7L551.7 311.1 M553.0 316.7L553.0 311.4M553.0 316.7L548.0 315.1M553.0 316.7L549.9 321.0M553.0 316.7L556.1 321.0M553.0 316.7L558.0 315.1 M476.7 369.0L476.7 363.7M476.7 369.0L471.7 367.4M476.7 369.0L473.6 373.3M476.7 369.0L479.8 373.3M476.7 369.0L481.7 367.4 M520.0 325.0L520.0 319.7M520.0 325.0L515.0 323.4M520.0 325.0L516.9 329.3M520.0 325.0L523.1 329.3M520.0 325.0L525.0 323.4 M470.0 318.0L470.0 312.7M470.0 318.0L465.0 316.4M470.0 318.0L466.9 322.3M470.0 318.0L473.1 322.3M470.0 318.0L475.0 316.4" fill="none" stroke="#999" stroke-width="1.2"/>
<path d="M380.3 353.7 L382.0 353.6 L383.6 353.4 L385.3 353.2 L386.9 353.0 L388.6 352.9 L390.2 352.7 L391.9 352.4 L393.5 352.2 L395.2 352.0 L396.9 351.8 L398.5 351.5 L400.2 351.3 L401.8 351.0 L403.5 350.7 L405.1 350.5 L406.8 350.2 L408.5 349.9 L410.1 349.6 L411.8 349.3 L413.4 349.0 L415.1 348.7 L416.7 348.3 L418.4 348.0 L420.0 347.6 L421.7 347.2 L423.4 346.8 L425.0 346.4 L426.7 346.0 L428.3 345.5 L430.0 345.0 L431.6 344.5 L433.3 343.9 L434.9 343.3 L436.6 342.6 L438.3 341.9 L439.9 341.2 L441.6 340.4 L443.2 339.6 L444.9 338.8 L446.5 337.9 L448.2 337.0 L449.8 336.1 L451.5 335.1 L453.2 334.1 L454.8 333.0 L456.5 331.9 L458.1 330.7 L459.8 329.4 L461.4 328.1 L463.1 326.7 L464.8 325.2 L466.4 323.8 L468.1 322.3 L469.7 320.7 L471.4 318.9 L473.0 316.6 L474.7 313.7 L476.3 308.8 L478.0 298.0" fill="none" stroke="#000" stroke-width="1.5"/>
<path d="M480.0 259.0 L481.7 270.2 L483.3 278.2 L485.0 284.0 L486.6 287.6 L488.3 290.4 L490.0 292.7 L491.6 294.5 L493.3 296.1 L494.9 297.5 L496.6 298.7 L498.3 299.8 L499.9 300.9 L501.6 301.8 L503.3 302.7 L504.9 303.5 L506.6 304.3 L508.2 305.1 L509.9 305.9 L511.6 306.8 L513.2 307.6 L514.9 308.3 L516.5 309.1 L518.2 309.9 L519.9 310.6 L521.5 311.4 L523.2 312.1 L524.8 312.8 L526.5 313.5 L528.2 314.2 L529.8 314.9 L531.5 315.6 L533.2 316.3 L534.8 317.0 L536.5 317.7 L538.1 318.4 L539.8 319.1 L541.5 319.8 L543.1 320.5 L544.8 321.1 L546.4 321.7 L548.1 322.3 L549.8 322.9 L551.4 323.5 L553.1 324.0 L554.7 324.6 L556.4 325.1 L558.1 325.6 L559.7 326.1 L561.4 326.6 L563.1 327.0 L564.7 327.4 L566.4 327.8 L568.0 328.2 L569.7 328.5 L571.4 328.9 L573.0 329.2 L574.7 329.5 L576.3 329.8 L578.0 330.0" fill="none" stroke="#000" stroke-width="1.5"/>
<path d="M425.6 344.0L431.1 338.5L436.6 344.0L431.1 349.5Z M426.3 346.7L431.8 341.2L437.3 346.7L431.8 352.2Z M427.9 346.4L433.4 340.9L438.9 346.4L433.4 351.9Z M430.1 338.8L435.6 333.3L441.1 338.8L435.6 344.3Z M431.1 339.8L436.6 334.3L442.1 339.8L436.6 345.3Z M433.0 338.9L438.5 333.4L444.0 338.9L438.5 344.4Z M434.4 339.9L439.9 334.4L445.4 339.9L439.9 345.4Z M436.0 340.2L441.5 334.7L447.0 340.2L441.5 345.7Z M437.2 338.7L442.7 333.2L448.2 338.7L442.7 344.2Z M438.3 335.2L443.8 329.7L449.3 335.2L443.8 340.7Z M439.8 335.8L445.3 330.3L450.8 335.8L445.3 341.3Z M441.3 331.3L446.8 325.8L452.3 331.3L446.8 336.8Z M442.8 331.3L448.3 325.8L453.8 331.3L448.3 336.8Z M444.1 330.9L449.6 325.4L455.1 330.9L449.6 336.4Z M445.7 334.7L451.2 329.2L456.7 334.7L451.2 340.2Z M447.3 332.1L452.8 326.6L458.3 332.1L452.8 337.6Z M449.0 334.0L454.5 328.5L460.0 334.0L454.5 339.5Z M450.1 331.5L455.6 326.0L461.1 331.5L455.6 337.0Z M452.0 330.2L457.5 324.7L463.0 330.2L457.5 335.7Z M453.5 329.2L459.0 323.7L464.5 329.2L459.0 334.7Z M455.1 328.1L460.6 322.6L466.1 328.1L460.6 333.6Z M456.3 326.3L461.8 320.8L467.3 326.3L461.8 331.8Z M458.3 327.3L463.8 321.8L469.3 327.3L463.8 332.8Z M459.2 322.9L464.7 317.4L470.2 322.9L464.7 328.4Z M460.8 322.7L466.3 317.2L471.8 322.7L466.3 328.2Z M462.6 323.9L468.1 318.4L473.6 323.9L468.1 329.4Z M463.5 320.9L469.0 315.4L474.5 320.9L469.0 326.4Z M465.5 318.8L471.0 313.3L476.5 318.8L471.0 324.3Z M467.1 316.8L472.6 311.3L478.1 316.8L472.6 322.3Z M478.3 299.2L483.8 293.7L489.3 299.2L483.8 304.7Z M480.6 296.8L486.1 291.3L491.6 296.8L486.1 302.3Z M482.0 299.4L487.5 293.9L493.0 299.4L487.5 304.9Z M483.9 300.0L489.4 294.5L494.9 300.0L489.4 305.5Z M485.8 300.9L491.3 295.4L496.8 300.9L491.3 306.4Z M487.6 300.0L493.1 294.5L498.6 300.0L493.1 305.5Z M489.1 299.7L494.6 294.2L500.1 299.7L494.6 305.2Z M490.8 301.3L496.3 295.8L501.8 301.3L496.3 306.8Z M492.9 302.7L498.4 297.2L503.9 302.7L498.4 308.2Z M494.7 301.7L500.2 296.2L505.7 301.7L500.2 307.2Z M496.8 304.3L502.3 298.8L507.8 304.3L502.3 309.8Z M497.9 303.0L503.4 297.5L508.9 303.0L503.4 308.5Z M500.6 307.4L506.1 301.9L511.6 307.4L506.1 312.9Z M501.5 305.7L507.0 300.2L512.5 305.7L507.0 311.2Z M504.2 307.2L509.7 301.7L515.2 307.2L509.7 312.7Z M505.7 316.4L511.2 310.9L516.7 316.4L511.2 321.9Z M507.7 319.7L513.2 314.2L518.7 319.7L513.2 325.2Z M508.9 323.4L514.4 317.9L519.9 323.4L514.4 328.9Z M510.9 325.0L516.4 319.5L521.9 325.0L516.4 330.5Z M512.5 318.8L518.0 313.3L523.5 318.8L518.0 324.3Z M514.3 318.1L519.8 312.6L525.3 318.1L519.8 323.6Z M516.3 319.0L521.8 313.5L527.3 319.0L521.8 324.5Z M517.8 315.7L523.3 310.2L528.8 315.7L523.3 321.2Z M520.5 315.8L526.0 310.3L531.5 315.8L526.0 321.3Z M521.4 307.7L526.9 302.2L532.4 307.7L526.9 313.2Z M523.2 308.0L528.7 302.5L534.2 308.0L528.7 313.5Z M525.9 311.8L531.4 306.3L536.9 311.8L531.4 317.3Z M527.4 313.3L532.9 307.8L538.4 313.3L532.9 318.8Z M529.2 312.9L534.7 307.4L540.2 312.9L534.7 318.4Z M531.0 317.7L536.5 312.2L542.0 317.7L536.5 323.2Z M532.6 316.0L538.1 310.5L543.6 316.0L538.1 321.5Z M534.5 317.0L540.0 311.5L545.5 317.0L540.0 322.5Z M535.8 318.2L541.3 312.7L546.8 318.2L541.3 323.7Z M537.9 320.0L543.4 314.5L548.9 320.0L543.4 325.5Z M540.3 323.9L545.8 318.4L551.3 323.9L545.8 329.4Z M541.4 321.8L546.9 316.3L552.4 321.8L546.9 327.3Z M543.6 326.4L549.1 320.9L554.6 326.4L549.1 331.9Z M472.5 297.7L478.0 292.2L483.5 297.7L478.0 303.2Z M474.5 297.0L480.0 291.5L485.5 297.0L480.0 302.5Z M430.5 351.0L436.0 345.5L441.5 351.0L436.0 356.5Z M512.5 331.0L518.0 325.5L523.5 331.0L518.0 336.5Z M540.5 331.0L546.0 325.5L551.5 331.0L546.0 336.5Z" fill="none" stroke="#000" stroke-width="1.4" stroke-linejoin="miter"/>
<rect x="380.3" y="227.8" width="197.7" height="142.1" fill="none" stroke="#000" stroke-width="1.7" stroke-linejoin="round"/>
<path d="M380.3 369.9v-7.4M380.3 227.8v7.4M392.7 369.9v-3.9M392.7 227.8v3.9M405.0 369.9v-3.9M405.0 227.8v3.9M417.4 369.9v-3.9M417.4 227.8v3.9M429.7 369.9v-7.4M429.7 227.8v7.4M442.1 369.9v-3.9M442.1 227.8v3.9M454.4 369.9v-3.9M454.4 227.8v3.9M466.8 369.9v-3.9M466.8 227.8v3.9M479.1 369.9v-7.4M479.1 227.8v7.4M491.5 369.9v-3.9M491.5 227.8v3.9M503.9 369.9v-3.9M503.9 227.8v3.9M516.2 369.9v-3.9M516.2 227.8v3.9M528.6 369.9v-7.4M528.6 227.8v7.4M540.9 369.9v-3.9M540.9 227.8v3.9M553.3 369.9v-3.9M553.3 227.8v3.9M565.6 369.9v-3.9M565.6 227.8v3.9M578.0 369.9v-7.4M578.0 227.8v7.4M380.3 369.9h9.3M578.0 369.9h-9.3M380.3 362.8h5.0M578.0 362.8h-5.0M380.3 355.7h5.0M578.0 355.7h-5.0M380.3 348.6h5.0M578.0 348.6h-5.0M380.3 341.5h9.3M578.0 341.5h-9.3M380.3 334.4h5.0M578.0 334.4h-5.0M380.3 327.3h5.0M578.0 327.3h-5.0M380.3 320.1h5.0M578.0 320.1h-5.0M380.3 313.0h9.3M578.0 313.0h-9.3M380.3 305.9h5.0M578.0 305.9h-5.0M380.3 298.8h5.0M578.0 298.8h-5.0M380.3 291.7h5.0M578.0 291.7h-5.0M380.3 284.6h9.3M578.0 284.6h-9.3M380.3 277.5h5.0M578.0 277.5h-5.0M380.3 270.4h5.0M578.0 270.4h-5.0M380.3 263.3h5.0M578.0 263.3h-5.0M380.3 256.2h9.3M578.0 256.2h-9.3M380.3 249.1h5.0M578.0 249.1h-5.0M380.3 242.0h5.0M578.0 242.0h-5.0M380.3 234.9h5.0M578.0 234.9h-5.0M380.3 227.8h9.3M578.0 227.8h-9.3" fill="none" stroke="#000" stroke-width="1.4"/>
<text x="358.60" y="387.70" font-size="14.0" textLength="13.53" lengthAdjust="spacing">−4</text><text x="373.02" y="387.70" font-size="14.0">×</text><text x="395.77" y="387.70" font-size="14.0" text-anchor="end">10</text><text x="397.38" y="380.70" font-size="8.7">4</text>
<text x="408.03" y="387.70" font-size="14.0" textLength="13.81" lengthAdjust="spacing">−2</text><text x="422.44" y="387.70" font-size="14.0">×</text><text x="445.20" y="387.70" font-size="14.0" text-anchor="end">10</text><text x="446.81" y="380.70" font-size="8.7">4</text>
<text x="475.34" y="387.70" font-size="14.0">0</text>
<text x="510.98" y="387.70" font-size="14.0">2</text><text x="519.20" y="387.70" font-size="14.0">×</text><text x="541.95" y="387.70" font-size="14.0" text-anchor="end">10</text><text x="543.06" y="380.70" font-size="8.7">4</text>
<text x="560.65" y="387.70" font-size="14.0">4</text><text x="570.17" y="387.70" font-size="14.0">×</text><text x="593.17" y="387.70" font-size="14.0" text-anchor="end">10</text><text x="594.18" y="380.70" font-size="8.7">4</text>
<text x="365.84" y="374.70" font-size="14.0">0</text>
<text x="335.00" y="348.17" font-size="14.0" textLength="31.77" lengthAdjust="spacing">2×10</text><text x="368.01" y="340.87" font-size="8.7">9</text>
<text x="335.35" y="319.74" font-size="14.0" textLength="31.42" lengthAdjust="spacing">4×10</text><text x="368.01" y="312.44" font-size="8.7">9</text>
<text x="335.00" y="291.31" font-size="14.0" textLength="31.77" lengthAdjust="spacing">6×10</text><text x="368.01" y="284.01" font-size="8.7">9</text>
<text x="335.07" y="262.88" font-size="14.0" textLength="31.70" lengthAdjust="spacing">8×10</text><text x="368.01" y="255.58" font-size="8.7">9</text>
<text x="331.66" y="234.45" font-size="14.0" textLength="30.81" lengthAdjust="spacing">1×10</text><text x="372.96" y="227.15" font-size="8.7" text-anchor="end">10</text>
<text x="385.20" y="402.00" font-size="14.0" textLength="184.28" lengthAdjust="spacingAndGlyphs">Cometocentric Distance (km)</text>
<g transform="translate(316.4 389.6) rotate(-90) scale(1.013 1)"><text x="0" y="0" font-size="14.0" textLength="132.3" lengthAdjust="spacingAndGlyphs">Column Density of C</text><text x="133.6" y="3.3" font-size="5.4">2</text><text x="141.5" y="0" font-size="14.0" textLength="24.2" lengthAdjust="spacingAndGlyphs">(cm</text><text x="166.4" y="-6.2" font-size="8.7">−2</text><text x="175.6" y="0" font-size="14.0">)</text></g>
<text x="415.36" y="252.25" font-size="15.8">120</text>
<text x="441.73" y="244.45" font-size="8.7">o</text>
<text x="514.77" y="252.25" font-size="15.8">300</text>
<text x="541.14" y="244.45" font-size="8.7">o</text>
</g>
<g>
<path d="M131.6 547.9L131.6 542.6M131.6 547.9L126.6 546.3M131.6 547.9L128.5 552.2M131.6 547.9L134.7 552.2M131.6 547.9L136.6 546.3 M133.2 542.5L133.2 537.2M133.2 542.5L128.1 540.9M133.2 542.5L130.1 546.8M133.2 542.5L136.3 546.8M133.2 542.5L138.2 540.9 M135.1 545.7L135.1 540.4M135.1 545.7L130.0 544.1M135.1 545.7L132.0 550.0M135.1 545.7L138.2 550.0M135.1 545.7L140.1 544.1 M137.7 546.7L137.7 541.4M137.7 546.7L132.7 545.0M137.7 546.7L134.6 551.0M137.7 546.7L140.9 551.0M137.7 546.7L142.8 545.0 M139.9 543.2L139.9 537.9M139.9 543.2L134.8 541.5M139.9 543.2L136.8 547.4M139.9 543.2L143.0 547.4M139.9 543.2L144.9 541.5 M141.5 542.8L141.5 537.5M141.5 542.8L136.5 541.1M141.5 542.8L138.4 547.1M141.5 542.8L144.6 547.1M141.5 542.8L146.6 541.1 M143.3 539.2L143.3 533.9M143.3 539.2L138.3 537.5M143.3 539.2L140.2 543.5M143.3 539.2L146.4 543.5M143.3 539.2L148.4 537.5 M146.0 539.7L146.0 534.4M146.0 539.7L140.9 538.1M146.0 539.7L142.9 544.0M146.0 539.7L149.1 544.0M146.0 539.7L151.0 538.1 M148.0 538.7L148.0 533.4M148.0 538.7L142.9 537.1M148.0 538.7L144.9 543.0M148.0 538.7L151.1 543.0M148.0 538.7L153.0 537.1 M149.6 533.8L149.6 528.5M149.6 533.8L144.6 532.1M149.6 533.8L146.5 538.0M149.6 533.8L152.8 538.0M149.6 533.8L154.7 532.1 M151.9 529.6L151.9 524.3M151.9 529.6L146.9 528.0M151.9 529.6L148.8 533.9M151.9 529.6L155.0 533.9M151.9 529.6L156.9 528.0 M153.3 537.0L153.3 531.7M153.3 537.0L148.2 535.4M153.3 537.0L150.2 541.3M153.3 537.0L156.4 541.3M153.3 537.0L158.3 535.4 M154.9 527.9L154.9 522.6M154.9 527.9L149.8 526.2M154.9 527.9L151.8 532.1M154.9 527.9L158.0 532.1M154.9 527.9L159.9 526.2 M157.6 529.0L157.6 523.7M157.6 529.0L152.5 527.4M157.6 529.0L154.5 533.3M157.6 529.0L160.7 533.3M157.6 529.0L162.6 527.4 M159.0 526.5L159.0 521.2M159.0 526.5L154.0 524.9M159.0 526.5L155.9 530.8M159.0 526.5L162.1 530.8M159.0 526.5L164.1 524.9 M161.5 528.3L161.5 523.0M161.5 528.3L156.4 526.7M161.5 528.3L158.3 532.6M161.5 528.3L164.6 532.6M161.5 528.3L166.5 526.7 M162.9 528.8L162.9 523.5M162.9 528.8L157.8 527.1M162.9 528.8L159.7 533.1M162.9 528.8L166.0 533.1M162.9 528.8L167.9 527.1 M165.5 522.6L165.5 517.3M165.5 522.6L160.4 521.0M165.5 522.6L162.3 526.9M165.5 522.6L168.6 526.9M165.5 522.6L170.5 521.0 M167.5 520.5L167.5 515.2M167.5 520.5L162.5 518.8M167.5 520.5L164.4 524.8M167.5 520.5L170.7 524.8M167.5 520.5L172.6 518.8 M168.7 515.8L168.7 510.5M168.7 515.8L163.6 514.1M168.7 515.8L165.6 520.0M168.7 515.8L171.8 520.0M168.7 515.8L173.7 514.1 M180.3 503.3L180.3 498.0M180.3 503.3L175.2 501.6M180.3 503.3L177.2 507.5M180.3 503.3L183.4 507.5M180.3 503.3L185.3 501.6 M183.0 501.8L183.0 496.5M183.0 501.8L178.0 500.2M183.0 501.8L179.9 506.1M183.0 501.8L186.1 506.1M183.0 501.8L188.1 500.2 M188.1 504.5L188.1 499.2M188.1 504.5L183.0 502.9M188.1 504.5L185.0 508.8M188.1 504.5L191.2 508.8M188.1 504.5L193.1 502.9 M190.9 505.2L190.9 499.9M190.9 505.2L185.8 503.5M190.9 505.2L187.7 509.5M190.9 505.2L194.0 509.5M190.9 505.2L195.9 503.5 M194.3 503.7L194.3 498.4M194.3 503.7L189.3 502.0M194.3 503.7L191.2 508.0M194.3 503.7L197.5 508.0M194.3 503.7L199.4 502.0 M196.3 501.3L196.3 496.0M196.3 501.3L191.3 499.6M196.3 501.3L193.2 505.6M196.3 501.3L199.4 505.6M196.3 501.3L201.3 499.6 M200.1 506.0L200.1 500.7M200.1 506.0L195.0 504.4M200.1 506.0L197.0 510.3M200.1 506.0L203.2 510.3M200.1 506.0L205.1 504.4 M204.4 504.9L204.4 499.6M204.4 504.9L199.3 503.2M204.4 504.9L201.3 509.1M204.4 504.9L207.5 509.1M204.4 504.9L209.4 503.2 M207.7 508.7L207.7 503.4M207.7 508.7L202.6 507.1M207.7 508.7L204.6 513.0M207.7 508.7L210.8 513.0M207.7 508.7L212.7 507.1 M209.4 515.1L209.4 509.8M209.4 515.1L204.4 513.5M209.4 515.1L206.3 519.4M209.4 515.1L212.5 519.4M209.4 515.1L214.5 513.5 M213.3 512.8L213.3 507.5M213.3 512.8L208.2 511.2M213.3 512.8L210.2 517.1M213.3 512.8L216.4 517.1M213.3 512.8L218.3 511.2 M217.4 514.9L217.4 509.6M217.4 514.9L212.3 513.2M217.4 514.9L214.2 519.2M217.4 514.9L220.5 519.2M217.4 514.9L222.4 513.2 M220.2 527.0L220.2 521.7M220.2 527.0L215.2 525.4M220.2 527.0L217.1 531.3M220.2 527.0L223.3 531.3M220.2 527.0L225.3 525.4 M223.1 519.4L223.1 514.1M223.1 519.4L218.0 517.8M223.1 519.4L220.0 523.7M223.1 519.4L226.2 523.7M223.1 519.4L228.1 517.8 M226.0 516.4L226.0 511.1M226.0 516.4L221.0 514.7M226.0 516.4L222.9 520.6M226.0 516.4L229.1 520.6M226.0 516.4L231.0 514.7 M230.4 525.3L230.4 520.0M230.4 525.3L225.4 523.7M230.4 525.3L227.3 529.6M230.4 525.3L233.5 529.6M230.4 525.3L235.4 523.7 M232.7 522.0L232.7 516.7M232.7 522.0L227.7 520.3M232.7 522.0L229.6 526.3M232.7 522.0L235.8 526.3M232.7 522.0L237.8 520.3 M236.8 524.6L236.8 519.3M236.8 524.6L231.7 523.0M236.8 524.6L233.6 528.9M236.8 524.6L239.9 528.9M236.8 524.6L241.8 523.0 M240.1 519.9L240.1 514.6M240.1 519.9L235.1 518.3M240.1 519.9L237.0 524.2M240.1 519.9L243.2 524.2M240.1 519.9L245.1 518.3 M242.7 519.7L242.7 514.4M242.7 519.7L237.6 518.1M242.7 519.7L239.6 524.0M242.7 519.7L245.8 524.0M242.7 519.7L247.7 518.1 M133.8 530.0L133.8 524.7M133.8 530.0L128.8 528.4M133.8 530.0L130.7 534.3M133.8 530.0L136.9 534.3M133.8 530.0L138.8 528.4 M141.0 524.8L141.0 519.5M141.0 524.8L136.0 523.2M141.0 524.8L137.9 529.1M141.0 524.8L144.1 529.1M141.0 524.8L146.0 523.2 M137.0 533.0L137.0 527.7M137.0 533.0L132.0 531.4M137.0 533.0L133.9 537.3M137.0 533.0L140.1 537.3M137.0 533.0L142.0 531.4 M175.0 508.0L175.0 502.7M175.0 508.0L170.0 506.4M175.0 508.0L171.9 512.3M175.0 508.0L178.1 512.3M175.0 508.0L180.0 506.4 M177.0 510.0L177.0 504.7M177.0 510.0L172.0 508.4M177.0 510.0L173.9 514.3M177.0 510.0L180.1 514.3M177.0 510.0L182.0 508.4 M173.0 514.0L173.0 508.7M173.0 514.0L168.0 512.4M173.0 514.0L169.9 518.3M173.0 514.0L176.1 518.3M173.0 514.0L178.0 512.4 M179.0 506.0L179.0 500.7M179.0 506.0L174.0 504.4M179.0 506.0L175.9 510.3M179.0 506.0L182.1 510.3M179.0 506.0L184.0 504.4 M213.0 522.0L213.0 516.7M213.0 522.0L208.0 520.4M213.0 522.0L209.9 526.3M213.0 522.0L216.1 526.3M213.0 522.0L218.0 520.4 M227.0 513.7L227.0 508.4M227.0 513.7L222.0 512.1M227.0 513.7L223.9 518.0M227.0 513.7L230.1 518.0M227.0 513.7L232.0 512.1 M232.0 515.0L232.0 509.7M232.0 515.0L227.0 513.4M232.0 515.0L228.9 519.3M232.0 515.0L235.1 519.3M232.0 515.0L237.0 513.4 M128.0 548.0L128.0 542.7M128.0 548.0L123.0 546.4M128.0 548.0L124.9 552.3M128.0 548.0L131.1 552.3M128.0 548.0L133.0 546.4" fill="none" stroke="#999" stroke-width="1.2"/>
<path d="M81.0 553.3 L82.6 553.2 L84.2 553.0 L85.8 552.8 L87.3 552.7 L88.9 552.5 L90.5 552.3 L92.1 552.1 L93.7 551.9 L95.3 551.7 L96.8 551.5 L98.4 551.3 L100.0 551.0 L101.6 550.8 L103.2 550.6 L104.8 550.3 L106.4 550.1 L107.9 549.9 L109.5 549.6 L111.1 549.4 L112.7 549.1 L114.3 548.8 L115.9 548.5 L117.4 548.3 L119.0 547.9 L120.6 547.6 L122.2 547.3 L123.8 546.9 L125.4 546.5 L127.0 546.1 L128.5 545.7 L130.1 545.2 L131.7 544.7 L133.3 544.1 L134.9 543.5 L136.5 542.8 L138.1 542.1 L139.6 541.4 L141.2 540.6 L142.8 539.8 L144.4 539.0 L146.0 538.1 L147.6 537.3 L149.1 536.3 L150.7 535.3 L152.3 534.3 L153.9 533.1 L155.5 531.9 L157.1 530.6 L158.7 529.2 L160.2 527.7 L161.8 526.2 L163.4 524.5 L165.0 522.7 L166.6 520.7 L168.2 518.3 L169.7 515.5 L171.3 511.7 L172.9 506.3 L174.5 498.0" fill="none" stroke="#000" stroke-width="1.5"/>
<path d="M176.6 462.0 L178.2 472.2 L179.7 479.9 L181.3 486.2 L182.9 491.8 L184.5 494.4 L186.0 496.5 L187.6 498.0 L189.2 499.3 L190.7 500.6 L192.3 501.7 L193.9 502.7 L195.4 503.6 L197.0 504.4 L198.6 505.2 L200.2 506.0 L201.7 506.8 L203.3 507.6 L204.9 508.4 L206.4 509.2 L208.0 510.2 L209.6 511.1 L211.1 512.0 L212.7 512.9 L214.3 513.9 L215.9 514.8 L217.4 515.7 L219.0 516.5 L220.6 517.3 L222.1 518.1 L223.7 518.8 L225.3 519.5 L226.9 520.1 L228.4 520.8 L230.0 521.4 L231.6 522.0 L233.1 522.6 L234.7 523.2 L236.3 523.7 L237.8 524.3 L239.4 524.8 L241.0 525.3 L242.6 525.8 L244.1 526.4 L245.7 526.8 L247.3 527.3 L248.8 527.8 L250.4 528.3 L252.0 528.7 L253.5 529.1 L255.1 529.5 L256.7 529.9 L258.3 530.3 L259.8 530.7 L261.4 531.1 L263.0 531.4 L264.5 531.8 L266.1 532.1 L267.7 532.4 L269.2 532.7" fill="none" stroke="#000" stroke-width="1.5"/>
<path d="M125.6 547.3L131.1 541.8L136.6 547.3L131.1 552.8Z M127.5 543.7L133.0 538.2L138.5 543.7L133.0 549.2Z M129.2 545.8L134.7 540.3L140.2 545.8L134.7 551.3Z M130.0 544.6L135.5 539.1L141.0 544.6L135.5 550.1Z M131.3 546.2L136.8 540.7L142.3 546.2L136.8 551.7Z M132.8 541.4L138.3 535.9L143.8 541.4L138.3 546.9Z M134.5 541.4L140.0 535.9L145.5 541.4L140.0 546.9Z M135.9 537.1L141.4 531.6L146.9 537.1L141.4 542.6Z M137.3 537.0L142.8 531.5L148.3 537.0L142.8 542.5Z M139.1 535.8L144.6 530.3L150.1 535.8L144.6 541.3Z M140.9 535.7L146.4 530.2L151.9 535.7L146.4 541.2Z M141.7 535.4L147.2 529.9L152.7 535.4L147.2 540.9Z M143.5 534.2L149.0 528.7L154.5 534.2L149.0 539.7Z M145.2 532.7L150.7 527.2L156.2 532.7L150.7 538.2Z M146.1 529.5L151.6 524.0L157.1 529.5L151.6 535.0Z M147.3 529.2L152.8 523.7L158.3 529.2L152.8 534.7Z M149.1 527.7L154.6 522.2L160.1 527.7L154.6 533.2Z M150.8 524.2L156.3 518.7L161.8 524.2L156.3 529.7Z M152.3 529.6L157.8 524.1L163.3 529.6L157.8 535.1Z M153.4 527.6L158.9 522.1L164.4 527.6L158.9 533.1Z M155.1 525.3L160.6 519.8L166.1 525.3L160.6 530.8Z M156.4 524.4L161.9 518.9L167.4 524.4L161.9 529.9Z M158.2 523.2L163.7 517.7L169.2 523.2L163.7 528.7Z M159.0 516.9L164.5 511.4L170.0 516.9L164.5 522.4Z M160.5 518.1L166.0 512.6L171.5 518.1L166.0 523.6Z M162.1 515.7L167.6 510.2L173.1 515.7L167.6 521.2Z M163.9 513.4L169.4 507.9L174.9 513.4L169.4 518.9Z M174.9 500.6L180.4 495.1L185.9 500.6L180.4 506.1Z M176.2 502.1L181.7 496.6L187.2 502.1L181.7 507.6Z M177.9 504.1L183.4 498.6L188.9 504.1L183.4 509.6Z M180.7 500.0L186.2 494.5L191.7 500.0L186.2 505.5Z M181.9 504.6L187.4 499.1L192.9 504.6L187.4 510.1Z M184.4 500.6L189.9 495.1L195.4 500.6L189.9 506.1Z M186.7 502.7L192.2 497.2L197.7 502.7L192.2 508.2Z M188.0 504.9L193.5 499.4L199.0 504.9L193.5 510.4Z M190.1 507.1L195.6 501.6L201.1 507.1L195.6 512.6Z M192.7 506.6L198.2 501.1L203.7 506.6L198.2 512.1Z M194.6 508.7L200.1 503.2L205.6 508.7L200.1 514.2Z M196.1 504.7L201.6 499.2L207.1 504.7L201.6 510.2Z M198.5 505.0L204.0 499.5L209.5 505.0L204.0 510.5Z M200.4 510.7L205.9 505.2L211.4 510.7L205.9 516.2Z M202.1 506.6L207.6 501.1L213.1 506.6L207.6 512.1Z M204.0 506.7L209.5 501.2L215.0 506.7L209.5 512.2Z M206.8 514.1L212.3 508.6L217.8 514.1L212.3 519.6Z M208.0 513.3L213.5 507.8L219.0 513.3L213.5 518.8Z M210.6 518.0L216.1 512.5L221.6 518.0L216.1 523.5Z M212.1 514.7L217.6 509.2L223.1 514.7L217.6 520.2Z M214.8 517.2L220.3 511.7L225.8 517.2L220.3 522.7Z M216.8 520.3L222.3 514.8L227.8 520.3L222.3 525.8Z M218.5 518.2L224.0 512.7L229.5 518.2L224.0 523.7Z M220.9 516.7L226.4 511.2L231.9 516.7L226.4 522.2Z M222.2 521.5L227.7 516.0L233.2 521.5L227.7 527.0Z M224.7 517.3L230.2 511.8L235.7 517.3L230.2 522.8Z M226.2 519.8L231.7 514.3L237.2 519.8L231.7 525.3Z M228.0 517.7L233.5 512.2L239.0 517.7L233.5 523.2Z M229.9 520.0L235.4 514.5L240.9 520.0L235.4 525.5Z M232.7 520.1L238.2 514.6L243.7 520.1L238.2 525.6Z M233.8 521.5L239.3 516.0L244.8 521.5L239.3 527.0Z M236.7 519.4L242.2 513.9L247.7 519.4L242.2 524.9Z M238.0 518.7L243.5 513.2L249.0 518.7L243.5 524.2Z M171.1 498.5L176.6 493.0L182.1 498.5L176.6 504.0Z M169.5 489.0L175.0 483.5L180.5 489.0L175.0 494.5Z M166.3 454.0L171.8 448.5L177.3 454.0L171.8 459.5Z M147.3 545.0L152.8 539.5L158.3 545.0L152.8 550.5Z M188.5 497.0L194.0 491.5L199.5 497.0L194.0 502.5Z M153.5 523.0L159.0 517.5L164.5 523.0L159.0 528.5Z M166.5 510.0L172.0 504.5L177.5 510.0L172.0 515.5Z" fill="none" stroke="#000" stroke-width="1.4" stroke-linejoin="miter"/>
<rect x="81.0" y="434.6" width="188.2" height="136.0" fill="none" stroke="#000" stroke-width="1.7" stroke-linejoin="round"/>
<path d="M81.0 570.6v-7.4M81.0 434.6v7.4M92.8 570.6v-3.9M92.8 434.6v3.9M104.5 570.6v-3.9M104.5 434.6v3.9M116.3 570.6v-3.9M116.3 434.6v3.9M128.1 570.6v-7.4M128.1 434.6v7.4M139.8 570.6v-3.9M139.8 434.6v3.9M151.6 570.6v-3.9M151.6 434.6v3.9M163.4 570.6v-3.9M163.4 434.6v3.9M175.1 570.6v-7.4M175.1 434.6v7.4M186.9 570.6v-3.9M186.9 434.6v3.9M198.7 570.6v-3.9M198.7 434.6v3.9M210.4 570.6v-3.9M210.4 434.6v3.9M222.2 570.6v-7.4M222.2 434.6v7.4M234.0 570.6v-3.9M234.0 434.6v3.9M245.7 570.6v-3.9M245.7 434.6v3.9M257.5 570.6v-3.9M257.5 434.6v3.9M269.2 570.6v-7.4M269.2 434.6v7.4M81.0 570.6h9.3M269.2 570.6h-9.3M81.0 563.8h5.0M269.2 563.8h-5.0M81.0 557.0h5.0M269.2 557.0h-5.0M81.0 550.2h5.0M269.2 550.2h-5.0M81.0 543.4h9.3M269.2 543.4h-9.3M81.0 536.6h5.0M269.2 536.6h-5.0M81.0 529.8h5.0M269.2 529.8h-5.0M81.0 523.0h5.0M269.2 523.0h-5.0M81.0 516.2h9.3M269.2 516.2h-9.3M81.0 509.4h5.0M269.2 509.4h-5.0M81.0 502.6h5.0M269.2 502.6h-5.0M81.0 495.8h5.0M269.2 495.8h-5.0M81.0 489.0h9.3M269.2 489.0h-9.3M81.0 482.2h5.0M269.2 482.2h-5.0M81.0 475.4h5.0M269.2 475.4h-5.0M81.0 468.6h5.0M269.2 468.6h-5.0M81.0 461.8h9.3M269.2 461.8h-9.3M81.0 455.0h5.0M269.2 455.0h-5.0M81.0 448.2h5.0M269.2 448.2h-5.0M81.0 441.4h5.0M269.2 441.4h-5.0M81.0 434.6h9.3M269.2 434.6h-9.3" fill="none" stroke="#000" stroke-width="1.4"/>
<path d="M81.0 434.6h3.6l-3.6 3.6z" fill="#000"/>
<text x="59.60" y="588.40" font-size="14.0" textLength="13.53" lengthAdjust="spacing">−4</text><text x="74.02" y="588.40" font-size="14.0">×</text><text x="96.77" y="588.40" font-size="14.0" text-anchor="end">10</text><text x="98.38" y="581.40" font-size="8.7">4</text>
<text x="106.66" y="588.40" font-size="14.0" textLength="13.81" lengthAdjust="spacing">−2</text><text x="121.08" y="588.40" font-size="14.0">×</text><text x="143.84" y="588.40" font-size="14.0" text-anchor="end">10</text><text x="145.44" y="581.40" font-size="8.7">4</text>
<text x="171.31" y="588.40" font-size="14.0">0</text>
<text x="204.59" y="588.40" font-size="14.0">2</text><text x="212.81" y="588.40" font-size="14.0">×</text><text x="235.56" y="588.40" font-size="14.0" text-anchor="end">10</text><text x="236.67" y="581.40" font-size="8.7">4</text>
<text x="251.90" y="588.40" font-size="14.0">4</text><text x="261.42" y="588.40" font-size="14.0">×</text><text x="284.42" y="588.40" font-size="14.0" text-anchor="end">10</text><text x="285.43" y="581.40" font-size="8.7">4</text>
<text x="66.54" y="575.40" font-size="14.0">0</text>
<text x="36.70" y="550.10" font-size="14.0" textLength="30.77" lengthAdjust="spacing">2×10</text><text x="68.71" y="542.80" font-size="8.7">9</text>
<text x="37.05" y="522.90" font-size="14.0" textLength="30.42" lengthAdjust="spacing">4×10</text><text x="68.71" y="515.60" font-size="8.7">9</text>
<text x="36.70" y="495.70" font-size="14.0" textLength="30.77" lengthAdjust="spacing">6×10</text><text x="68.71" y="488.40" font-size="8.7">9</text>
<text x="36.77" y="468.50" font-size="14.0" textLength="30.70" lengthAdjust="spacing">8×10</text><text x="68.71" y="461.20" font-size="8.7">9</text>
<text x="33.36" y="441.30" font-size="14.0" textLength="29.81" lengthAdjust="spacing">1×10</text><text x="73.66" y="434.00" font-size="8.7" text-anchor="end">10</text>
<text x="81.17" y="602.70" font-size="14.0" textLength="184.28" lengthAdjust="spacingAndGlyphs">Cometocentric Distance (km)</text>
<g transform="translate(16.6 592.2) rotate(-90) scale(1.0 1)"><text x="0" y="0" font-size="14.0" textLength="132.3" lengthAdjust="spacingAndGlyphs">Column Density of C</text><text x="133.6" y="3.3" font-size="5.4">2</text><text x="141.5" y="0" font-size="14.0" textLength="24.2" lengthAdjust="spacingAndGlyphs">(cm</text><text x="166.4" y="-6.2" font-size="8.7">−2</text><text x="175.6" y="0" font-size="14.0">)</text></g>
<text x="112.86" y="459.10" font-size="15.8">135</text>
<text x="139.17" y="451.30" font-size="8.7">o</text>
<text x="207.97" y="459.10" font-size="15.8">315</text>
<text x="234.27" y="451.30" font-size="8.7">o</text>
</g>
<g>
<path d="M432.1 545.4L432.1 540.1M432.1 545.4L427.1 543.8M432.1 545.4L429.0 549.7M432.1 545.4L435.2 549.7M432.1 545.4L437.1 543.8 M434.6 541.9L434.6 536.6M434.6 541.9L429.6 540.3M434.6 541.9L431.5 546.2M434.6 541.9L437.7 546.2M434.6 541.9L439.6 540.3 M436.5 541.3L436.5 536.0M436.5 541.3L431.4 539.7M436.5 541.3L433.3 545.6M436.5 541.3L439.6 545.6M436.5 541.3L441.5 539.7 M437.5 542.0L437.5 536.7M437.5 542.0L432.5 540.4M437.5 542.0L434.4 546.3M437.5 542.0L440.6 546.3M437.5 542.0L442.6 540.4 M440.1 542.2L440.1 536.9M440.1 542.2L435.1 540.6M440.1 542.2L437.0 546.5M440.1 542.2L443.3 546.5M440.1 542.2L445.2 540.6 M441.9 543.9L441.9 538.6M441.9 543.9L436.9 542.3M441.9 543.9L438.8 548.2M441.9 543.9L445.1 548.2M441.9 543.9L447.0 542.3 M443.8 542.1L443.8 536.8M443.8 542.1L438.8 540.4M443.8 542.1L440.7 546.4M443.8 542.1L446.9 546.4M443.8 542.1L448.8 540.4 M445.6 543.3L445.6 538.0M445.6 543.3L440.6 541.6M445.6 543.3L442.5 547.5M445.6 543.3L448.8 547.5M445.6 543.3L450.7 541.6 M446.7 541.3L446.7 536.0M446.7 541.3L441.6 539.6M446.7 541.3L443.6 545.6M446.7 541.3L449.8 545.6M446.7 541.3L451.7 539.6 M448.4 545.7L448.4 540.4M448.4 545.7L443.3 544.0M448.4 545.7L445.3 550.0M448.4 545.7L451.5 550.0M448.4 545.7L453.4 544.0 M450.9 539.8L450.9 534.5M450.9 539.8L445.9 538.1M450.9 539.8L447.8 544.1M450.9 539.8L454.1 544.1M450.9 539.8L456.0 538.1 M452.5 539.0L452.5 533.7M452.5 539.0L447.5 537.4M452.5 539.0L449.4 543.3M452.5 539.0L455.7 543.3M452.5 539.0L457.6 537.4 M454.0 533.0L454.0 527.7M454.0 533.0L448.9 531.4M454.0 533.0L450.9 537.3M454.0 533.0L457.1 537.3M454.0 533.0L459.0 531.4 M455.6 538.7L455.6 533.4M455.6 538.7L450.5 537.1M455.6 538.7L452.5 543.0M455.6 538.7L458.7 543.0M455.6 538.7L460.6 537.1 M457.5 536.2L457.5 530.9M457.5 536.2L452.4 534.6M457.5 536.2L454.4 540.5M457.5 536.2L460.6 540.5M457.5 536.2L462.5 534.6 M459.4 531.7L459.4 526.4M459.4 531.7L454.4 530.1M459.4 531.7L456.3 536.0M459.4 531.7L462.5 536.0M459.4 531.7L464.4 530.1 M461.1 531.0L461.1 525.7M461.1 531.0L456.1 529.3M461.1 531.0L458.0 535.2M461.1 531.0L464.3 535.2M461.1 531.0L466.2 529.3 M463.0 528.5L463.0 523.2M463.0 528.5L457.9 526.8M463.0 528.5L459.8 532.8M463.0 528.5L466.1 532.8M463.0 528.5L468.0 526.8 M464.8 524.8L464.8 519.5M464.8 524.8L459.8 523.1M464.8 524.8L461.7 529.0M464.8 524.8L467.9 529.0M464.8 524.8L469.8 523.1 M467.3 519.7L467.3 514.4M467.3 519.7L462.3 518.1M467.3 519.7L464.2 524.0M467.3 519.7L470.4 524.0M467.3 519.7L472.3 518.1 M468.7 523.4L468.7 518.1M468.7 523.4L463.7 521.7M468.7 523.4L465.6 527.7M468.7 523.4L471.8 527.7M468.7 523.4L473.8 521.7 M469.9 519.9L469.9 514.6M469.9 519.9L464.9 518.3M469.9 519.9L466.8 524.2M469.9 519.9L473.0 524.2M469.9 519.9L474.9 518.3 M472.5 520.0L472.5 514.7M472.5 520.0L467.5 518.3M472.5 520.0L469.4 524.3M472.5 520.0L475.6 524.3M472.5 520.0L477.5 518.3 M473.8 514.3L473.8 509.0M473.8 514.3L468.8 512.7M473.8 514.3L470.7 518.6M473.8 514.3L476.9 518.6M473.8 514.3L478.9 512.7 M475.5 507.5L475.5 502.2M475.5 507.5L470.5 505.8M475.5 507.5L472.4 511.8M475.5 507.5L478.6 511.8M475.5 507.5L480.5 505.8 M486.9 502.7L486.9 497.4M486.9 502.7L481.9 501.1M486.9 502.7L483.8 507.0M486.9 502.7L490.0 507.0M486.9 502.7L492.0 501.1 M488.5 502.5L488.5 497.2M488.5 502.5L483.4 500.9M488.5 502.5L485.4 506.8M488.5 502.5L491.6 506.8M488.5 502.5L493.5 500.9 M490.9 502.9L490.9 497.6M490.9 502.9L485.8 501.3M490.9 502.9L487.8 507.2M490.9 502.9L494.0 507.2M490.9 502.9L495.9 501.3 M495.1 508.4L495.1 503.1M495.1 508.4L490.1 506.8M495.1 508.4L492.0 512.7M495.1 508.4L498.2 512.7M495.1 508.4L500.1 506.8 M496.2 501.8L496.2 496.5M496.2 501.8L491.2 500.1M496.2 501.8L493.1 506.0M496.2 501.8L499.3 506.0M496.2 501.8L501.3 500.1 M500.1 506.6L500.1 501.3M500.1 506.6L495.1 504.9M500.1 506.6L497.0 510.9M500.1 506.6L503.3 510.9M500.1 506.6L505.2 504.9 M501.8 504.6L501.8 499.3M501.8 504.6L496.8 503.0M501.8 504.6L498.7 508.9M501.8 504.6L505.0 508.9M501.8 504.6L506.9 503.0 M505.5 508.2L505.5 502.9M505.5 508.2L500.5 506.6M505.5 508.2L502.4 512.5M505.5 508.2L508.7 512.5M505.5 508.2L510.6 506.6 M507.3 510.6L507.3 505.3M507.3 510.6L502.3 509.0M507.3 510.6L504.2 514.9M507.3 510.6L510.4 514.9M507.3 510.6L512.3 509.0 M509.9 508.5L509.9 503.2M509.9 508.5L504.8 506.8M509.9 508.5L506.8 512.8M509.9 508.5L513.0 512.8M509.9 508.5L514.9 506.8 M513.3 508.8L513.3 503.5M513.3 508.8L508.3 507.2M513.3 508.8L510.2 513.1M513.3 508.8L516.4 513.1M513.3 508.8L518.4 507.2 M515.9 510.9L515.9 505.6M515.9 510.9L510.9 509.3M515.9 510.9L512.8 515.2M515.9 510.9L519.0 515.2M515.9 510.9L520.9 509.3 M517.7 512.5L517.7 507.2M517.7 512.5L512.6 510.9M517.7 512.5L514.6 516.8M517.7 512.5L520.8 516.8M517.7 512.5L522.7 510.9 M521.5 508.9L521.5 503.6M521.5 508.9L516.4 507.3M521.5 508.9L518.4 513.2M521.5 508.9L524.6 513.2M521.5 508.9L526.5 507.3 M523.9 511.9L523.9 506.6M523.9 511.9L518.9 510.2M523.9 511.9L520.8 516.2M523.9 511.9L527.0 516.2M523.9 511.9L528.9 510.2 M526.2 516.1L526.2 510.8M526.2 516.1L521.1 514.5M526.2 516.1L523.1 520.4M526.2 516.1L529.3 520.4M526.2 516.1L531.2 514.5 M529.6 519.6L529.6 514.3M529.6 519.6L524.6 517.9M529.6 519.6L526.5 523.9M529.6 519.6L532.8 523.9M529.6 519.6L534.7 517.9 M530.9 518.1L530.9 512.8M530.9 518.1L525.9 516.5M530.9 518.1L527.8 522.4M530.9 518.1L534.0 522.4M530.9 518.1L536.0 516.5 M533.9 516.0L533.9 510.7M533.9 516.0L528.8 514.4M533.9 516.0L530.8 520.3M533.9 516.0L537.0 520.3M533.9 516.0L538.9 514.4 M537.0 523.3L537.0 518.0M537.0 523.3L532.0 521.6M537.0 523.3L533.9 527.6M537.0 523.3L540.1 527.6M537.0 523.3L542.1 521.6 M539.5 519.9L539.5 514.6M539.5 519.9L534.5 518.2M539.5 519.9L536.4 524.2M539.5 519.9L542.6 524.2M539.5 519.9L544.5 518.2 M542.3 518.0L542.3 512.7M542.3 518.0L537.3 516.4M542.3 518.0L539.2 522.3M542.3 518.0L545.4 522.3M542.3 518.0L547.3 516.4 M545.1 520.0L545.1 514.7M545.1 520.0L540.0 518.4M545.1 520.0L542.0 524.3M545.1 520.0L548.2 524.3M545.1 520.0L550.1 518.4 M547.9 515.4L547.9 510.1M547.9 515.4L542.9 513.7M547.9 515.4L544.8 519.7M547.9 515.4L551.0 519.7M547.9 515.4L553.0 513.7 M550.1 517.5L550.1 512.2M550.1 517.5L545.1 515.9M550.1 517.5L547.0 521.8M550.1 517.5L553.2 521.8M550.1 517.5L555.2 515.9 M478.0 498.0L478.0 492.7M478.0 498.0L473.0 496.4M478.0 498.0L474.9 502.3M478.0 498.0L481.1 502.3M478.0 498.0L483.0 496.4 M483.0 500.0L483.0 494.7M483.0 500.0L478.0 498.4M483.0 500.0L479.9 504.3M483.0 500.0L486.1 504.3M483.0 500.0L488.0 498.4 M545.0 525.0L545.0 519.7M545.0 525.0L540.0 523.4M545.0 525.0L541.9 529.3M545.0 525.0L548.1 529.3M545.0 525.0L550.0 523.4 M550.0 523.0L550.0 517.7M550.0 523.0L545.0 521.4M550.0 523.0L546.9 527.3M550.0 523.0L553.1 527.3M550.0 523.0L555.0 521.4 M436.0 549.0L436.0 543.7M436.0 549.0L431.0 547.4M436.0 549.0L432.9 553.3M436.0 549.0L439.1 553.3M436.0 549.0L441.0 547.4" fill="none" stroke="#999" stroke-width="1.2"/>
<path d="M379.8 555.0 L381.5 554.9 L383.1 554.7 L384.8 554.6 L386.4 554.4 L388.1 554.2 L389.7 554.1 L391.4 553.9 L393.0 553.7 L394.7 553.5 L396.4 553.2 L398.0 553.0 L399.7 552.8 L401.3 552.5 L403.0 552.3 L404.6 552.1 L406.3 551.8 L408.0 551.5 L409.6 551.3 L411.3 551.0 L412.9 550.7 L414.6 550.4 L416.2 550.0 L417.9 549.7 L419.5 549.3 L421.2 549.0 L422.9 548.6 L424.5 548.2 L426.2 547.8 L427.8 547.3 L429.5 546.8 L431.1 546.4 L432.8 545.8 L434.4 545.2 L436.1 544.6 L437.8 544.0 L439.4 543.3 L441.1 542.5 L442.7 541.8 L444.4 541.0 L446.0 540.1 L447.7 539.3 L449.3 538.4 L451.0 537.4 L452.7 536.5 L454.3 535.4 L456.0 534.3 L457.6 533.2 L459.3 531.9 L460.9 530.6 L462.6 529.2 L464.3 527.7 L465.9 526.1 L467.6 524.5 L469.2 522.7 L470.9 520.5 L472.5 517.9 L474.2 514.2 L475.8 508.6 L477.5 500.0" fill="none" stroke="#000" stroke-width="1.5"/>
<path d="M480.0 460.7 L481.7 470.3 L483.3 477.8 L485.0 484.0 L486.7 489.7 L488.3 493.5 L490.0 495.7 L491.6 497.4 L493.3 498.8 L495.0 500.0 L496.6 501.1 L498.3 502.1 L500.0 503.0 L501.6 503.9 L503.3 504.7 L504.9 505.5 L506.6 506.2 L508.3 506.9 L509.9 507.7 L511.6 508.4 L513.3 509.1 L514.9 509.9 L516.6 510.6 L518.2 511.3 L519.9 512.0 L521.6 512.7 L523.2 513.3 L524.9 514.0 L526.6 514.6 L528.2 515.3 L529.9 516.0 L531.5 516.6 L533.2 517.3 L534.9 517.9 L536.5 518.6 L538.2 519.2 L539.9 519.8 L541.5 520.5 L543.2 521.1 L544.8 521.7 L546.5 522.3 L548.2 522.9 L549.8 523.4 L551.5 524.0 L553.2 524.5 L554.8 525.1 L556.5 525.6 L558.1 526.1 L559.8 526.6 L561.5 527.0 L563.1 527.5 L564.8 527.9 L566.5 528.4 L568.1 528.8 L569.8 529.2 L571.4 529.6 L573.1 530.0 L574.8 530.3 L576.4 530.7 L578.1 531.0" fill="none" stroke="#000" stroke-width="1.5"/>
<path d="M427.3 545.9L432.8 540.4L438.3 545.9L432.8 551.4Z M428.7 544.6L434.2 539.1L439.7 544.6L434.2 550.1Z M430.0 543.2L435.5 537.7L441.0 543.2L435.5 548.7Z M431.9 543.2L437.4 537.7L442.9 543.2L437.4 548.7Z M433.1 543.4L438.6 537.9L444.1 543.4L438.6 548.9Z M435.1 543.6L440.6 538.1L446.1 543.6L440.6 549.1Z M436.1 544.6L441.6 539.1L447.1 544.6L441.6 550.1Z M438.0 543.4L443.5 537.9L449.0 543.4L443.5 548.9Z M439.1 541.4L444.6 535.9L450.1 541.4L444.6 546.9Z M440.7 540.7L446.2 535.2L451.7 540.7L446.2 546.2Z M442.2 543.5L447.7 538.0L453.2 543.5L447.7 549.0Z M443.9 542.1L449.4 536.6L454.9 542.1L449.4 547.6Z M445.8 543.7L451.3 538.2L456.8 543.7L451.3 549.2Z M446.8 538.5L452.3 533.0L457.8 538.5L452.3 544.0Z M448.6 536.0L454.1 530.5L459.6 536.0L454.1 541.5Z M450.7 535.6L456.2 530.1L461.7 535.6L456.2 541.1Z M451.7 530.6L457.2 525.1L462.7 530.6L457.2 536.1Z M453.1 532.2L458.6 526.7L464.1 532.2L458.6 537.7Z M454.6 530.8L460.1 525.3L465.6 530.8L460.1 536.3Z M456.4 532.1L461.9 526.6L467.4 532.1L461.9 537.6Z M458.3 528.7L463.8 523.2L469.3 528.7L463.8 534.2Z M459.7 523.8L465.2 518.3L470.7 523.8L465.2 529.3Z M461.1 525.4L466.6 519.9L472.1 525.4L466.6 530.9Z M462.3 522.6L467.8 517.1L473.3 522.6L467.8 528.1Z M464.4 521.0L469.9 515.5L475.4 521.0L469.9 526.5Z M466.1 517.6L471.6 512.1L477.1 517.6L471.6 523.1Z M467.6 518.4L473.1 512.9L478.6 518.4L473.1 523.9Z M468.8 514.4L474.3 508.9L479.8 514.4L474.3 519.9Z M470.8 511.4L476.3 505.9L481.8 511.4L476.3 516.9Z M480.7 496.8L486.2 491.3L491.7 496.8L486.2 502.3Z M482.4 495.5L487.9 490.0L493.4 495.5L487.9 501.0Z M484.2 499.0L489.7 493.5L495.2 499.0L489.7 504.5Z M485.9 502.5L491.4 497.0L496.9 502.5L491.4 508.0Z M487.2 499.6L492.7 494.1L498.2 499.6L492.7 505.1Z M489.6 506.0L495.1 500.5L500.6 506.0L495.1 511.5Z M491.4 505.1L496.9 499.6L502.4 505.1L496.9 510.6Z M493.0 508.0L498.5 502.5L504.0 508.0L498.5 513.5Z M495.0 503.9L500.5 498.4L506.0 503.9L500.5 509.4Z M497.1 509.0L502.6 503.5L508.1 509.0L502.6 514.5Z M498.1 505.5L503.6 500.0L509.1 505.5L503.6 511.0Z M500.1 505.2L505.6 499.7L511.1 505.2L505.6 510.7Z M502.0 509.2L507.5 503.7L513.0 509.2L507.5 514.7Z M503.9 509.0L509.4 503.5L514.9 509.0L509.4 514.5Z M505.3 510.4L510.8 504.9L516.3 510.4L510.8 515.9Z M507.5 505.1L513.0 499.6L518.5 505.1L513.0 510.6Z M508.8 508.1L514.3 502.6L519.8 508.1L514.3 513.6Z M511.3 510.1L516.8 504.6L522.3 510.1L516.8 515.6Z M512.9 509.3L518.4 503.8L523.9 509.3L518.4 514.8Z M514.7 509.4L520.2 503.9L525.7 509.4L520.2 514.9Z M516.4 514.3L521.9 508.8L527.4 514.3L521.9 519.8Z M518.5 513.0L524.0 507.5L529.5 513.0L524.0 518.5Z M519.9 513.9L525.4 508.4L530.9 513.9L525.4 519.4Z M522.4 513.4L527.9 507.9L533.4 513.4L527.9 518.9Z M523.5 516.3L529.0 510.8L534.5 516.3L529.0 521.8Z M525.4 515.9L530.9 510.4L536.4 515.9L530.9 521.4Z M526.7 513.9L532.2 508.4L537.7 513.9L532.2 519.4Z M529.3 517.9L534.8 512.4L540.3 517.9L534.8 523.4Z M530.7 517.3L536.2 511.8L541.7 517.3L536.2 522.8Z M532.9 519.6L538.4 514.1L543.9 519.6L538.4 525.1Z M535.0 517.3L540.5 511.8L546.0 517.3L540.5 522.8Z M536.6 519.0L542.1 513.5L547.6 519.0L542.1 524.5Z M538.0 519.9L543.5 514.4L549.0 519.9L543.5 525.4Z M540.2 521.0L545.7 515.5L551.2 521.0L545.7 526.5Z M542.0 518.3L547.5 512.8L553.0 518.3L547.5 523.8Z M543.6 517.3L549.1 511.8L554.6 517.3L549.1 522.8Z M545.0 519.8L550.5 514.3L556.0 519.8L550.5 525.3Z M472.2 494.0L477.7 488.5L483.2 494.0L477.7 499.5Z M477.5 496.7L483.0 491.2L488.5 496.7L483.0 502.2Z M474.5 495.0L480.0 489.5L485.5 495.0L480.0 500.5Z M546.5 506.7L552.0 501.2L557.5 506.7L552.0 512.2Z M441.2 548.0L446.7 542.5L452.2 548.0L446.7 553.5Z M461.2 536.7L466.7 531.2L472.2 536.7L466.7 542.2Z" fill="none" stroke="#000" stroke-width="1.4" stroke-linejoin="miter"/>
<rect x="379.8" y="432.6" width="198.3" height="136.5" fill="none" stroke="#000" stroke-width="1.7" stroke-linejoin="round"/>
<path d="M379.8 569.1v-7.4M379.8 432.6v7.4M392.2 569.1v-3.9M392.2 432.6v3.9M404.6 569.1v-3.9M404.6 432.6v3.9M417.0 569.1v-3.9M417.0 432.6v3.9M429.4 569.1v-7.4M429.4 432.6v7.4M441.8 569.1v-3.9M441.8 432.6v3.9M454.2 569.1v-3.9M454.2 432.6v3.9M466.6 569.1v-3.9M466.6 432.6v3.9M479.0 569.1v-7.4M479.0 432.6v7.4M491.3 569.1v-3.9M491.3 432.6v3.9M503.7 569.1v-3.9M503.7 432.6v3.9M516.1 569.1v-3.9M516.1 432.6v3.9M528.5 569.1v-7.4M528.5 432.6v7.4M540.9 569.1v-3.9M540.9 432.6v3.9M553.3 569.1v-3.9M553.3 432.6v3.9M565.7 569.1v-3.9M565.7 432.6v3.9M578.1 569.1v-7.4M578.1 432.6v7.4M379.8 569.1h9.3M578.1 569.1h-9.3M379.8 562.3h5.0M578.1 562.3h-5.0M379.8 555.5h5.0M578.1 555.5h-5.0M379.8 548.6h5.0M578.1 548.6h-5.0M379.8 541.8h9.3M578.1 541.8h-9.3M379.8 535.0h5.0M578.1 535.0h-5.0M379.8 528.1h5.0M578.1 528.1h-5.0M379.8 521.3h5.0M578.1 521.3h-5.0M379.8 514.5h9.3M578.1 514.5h-9.3M379.8 507.7h5.0M578.1 507.7h-5.0M379.8 500.9h5.0M578.1 500.9h-5.0M379.8 494.0h5.0M578.1 494.0h-5.0M379.8 487.2h9.3M578.1 487.2h-9.3M379.8 480.4h5.0M578.1 480.4h-5.0M379.8 473.6h5.0M578.1 473.6h-5.0M379.8 466.7h5.0M578.1 466.7h-5.0M379.8 459.9h9.3M578.1 459.9h-9.3M379.8 453.1h5.0M578.1 453.1h-5.0M379.8 446.2h5.0M578.1 446.2h-5.0M379.8 439.4h5.0M578.1 439.4h-5.0M379.8 432.6h9.3M578.1 432.6h-9.3" fill="none" stroke="#000" stroke-width="1.4"/>
<text x="358.10" y="586.90" font-size="14.0" textLength="13.53" lengthAdjust="spacing">−4</text><text x="372.52" y="586.90" font-size="14.0">×</text><text x="395.27" y="586.90" font-size="14.0" text-anchor="end">10</text><text x="396.88" y="579.90" font-size="8.7">4</text>
<text x="407.68" y="586.90" font-size="14.0" textLength="13.81" lengthAdjust="spacing">−2</text><text x="422.09" y="586.90" font-size="14.0">×</text><text x="444.85" y="586.90" font-size="14.0" text-anchor="end">10</text><text x="446.46" y="579.90" font-size="8.7">4</text>
<text x="475.14" y="586.90" font-size="14.0">0</text>
<text x="510.93" y="586.90" font-size="14.0">2</text><text x="519.15" y="586.90" font-size="14.0">×</text><text x="541.90" y="586.90" font-size="14.0" text-anchor="end">10</text><text x="543.01" y="579.90" font-size="8.7">4</text>
<text x="560.75" y="586.90" font-size="14.0">4</text><text x="570.27" y="586.90" font-size="14.0">×</text><text x="593.27" y="586.90" font-size="14.0" text-anchor="end">10</text><text x="594.28" y="579.90" font-size="8.7">4</text>
<text x="365.34" y="573.90" font-size="14.0">0</text>
<text x="335.40" y="548.50" font-size="14.0" textLength="30.87" lengthAdjust="spacing">2×10</text><text x="367.51" y="541.20" font-size="8.7">9</text>
<text x="335.75" y="521.20" font-size="14.0" textLength="30.52" lengthAdjust="spacing">4×10</text><text x="367.51" y="513.90" font-size="8.7">9</text>
<text x="335.40" y="493.90" font-size="14.0" textLength="30.87" lengthAdjust="spacing">6×10</text><text x="367.51" y="486.60" font-size="8.7">9</text>
<text x="335.47" y="466.60" font-size="14.0" textLength="30.80" lengthAdjust="spacing">8×10</text><text x="367.51" y="459.30" font-size="8.7">9</text>
<text x="332.06" y="439.30" font-size="14.0" textLength="29.91" lengthAdjust="spacing">1×10</text><text x="372.46" y="432.00" font-size="8.7" text-anchor="end">10</text>
<text x="385.00" y="601.20" font-size="14.0" textLength="184.28" lengthAdjust="spacingAndGlyphs">Cometocentric Distance (km)</text>
<g transform="translate(315.9 591.6) rotate(-90) scale(1.013 1)"><text x="0" y="0" font-size="14.0" textLength="132.3" lengthAdjust="spacingAndGlyphs">Column Density of C</text><text x="133.6" y="3.3" font-size="5.4">2</text><text x="141.5" y="0" font-size="14.0" textLength="24.2" lengthAdjust="spacingAndGlyphs">(cm</text><text x="166.4" y="-6.2" font-size="8.7">−2</text><text x="175.6" y="0" font-size="14.0">)</text></g>
<text x="411.96" y="457.10" font-size="15.8">150</text>
<text x="438.33" y="449.30" font-size="8.7">o</text>
<text x="514.77" y="457.10" font-size="15.8">330</text>
<text x="541.14" y="449.30" font-size="8.7">o</text>
</g>
<g>
<path d="M130.0 749.8L130.0 744.5M130.0 749.8L124.9 748.2M130.0 749.8L126.8 754.1M130.0 749.8L133.1 754.1M130.0 749.8L135.0 748.2 M131.8 750.8L131.8 745.5M131.8 750.8L126.7 749.2M131.8 750.8L128.7 755.1M131.8 750.8L134.9 755.1M131.8 750.8L136.8 749.2 M132.9 746.7L132.9 741.4M132.9 746.7L127.9 745.1M132.9 746.7L129.8 751.0M132.9 746.7L136.0 751.0M132.9 746.7L137.9 745.1 M134.8 751.9L134.8 746.6M134.8 751.9L129.7 750.2M134.8 751.9L131.7 756.1M134.8 751.9L137.9 756.1M134.8 751.9L139.8 750.2 M136.2 751.2L136.2 745.9M136.2 751.2L131.2 749.6M136.2 751.2L133.1 755.5M136.2 751.2L139.4 755.5M136.2 751.2L141.3 749.6 M138.4 746.7L138.4 741.4M138.4 746.7L133.3 745.0M138.4 746.7L135.2 750.9M138.4 746.7L141.5 750.9M138.4 746.7L143.4 745.0 M139.4 748.8L139.4 743.5M139.4 748.8L134.4 747.2M139.4 748.8L136.3 753.1M139.4 748.8L142.5 753.1M139.4 748.8L144.5 747.2 M141.2 745.6L141.2 740.3M141.2 745.6L136.2 743.9M141.2 745.6L138.1 749.8M141.2 745.6L144.3 749.8M141.2 745.6L146.3 743.9 M143.2 744.6L143.2 739.3M143.2 744.6L138.1 743.0M143.2 744.6L140.0 748.9M143.2 744.6L146.3 748.9M143.2 744.6L148.2 743.0 M144.4 743.9L144.4 738.6M144.4 743.9L139.3 742.3M144.4 743.9L141.2 748.2M144.4 743.9L147.5 748.2M144.4 743.9L149.4 742.3 M146.2 744.9L146.2 739.6M146.2 744.9L141.2 743.3M146.2 744.9L143.1 749.2M146.2 744.9L149.3 749.2M146.2 744.9L151.2 743.3 M147.8 739.5L147.8 734.2M147.8 739.5L142.7 737.9M147.8 739.5L144.7 743.8M147.8 739.5L150.9 743.8M147.8 739.5L152.8 737.9 M149.4 738.2L149.4 732.9M149.4 738.2L144.3 736.5M149.4 738.2L146.2 742.5M149.4 738.2L152.5 742.5M149.4 738.2L154.4 736.5 M151.6 740.2L151.6 734.9M151.6 740.2L146.5 738.6M151.6 740.2L148.4 744.5M151.6 740.2L154.7 744.5M151.6 740.2L156.6 738.6 M153.1 738.1L153.1 732.8M153.1 738.1L148.1 736.4M153.1 738.1L150.0 742.4M153.1 738.1L156.2 742.4M153.1 738.1L158.1 736.4 M154.8 738.0L154.8 732.7M154.8 738.0L149.8 736.4M154.8 738.0L151.7 742.3M154.8 738.0L157.9 742.3M154.8 738.0L159.9 736.4 M156.4 735.4L156.4 730.1M156.4 735.4L151.3 733.8M156.4 735.4L153.3 739.7M156.4 735.4L159.5 739.7M156.4 735.4L161.4 733.8 M157.8 736.2L157.8 730.9M157.8 736.2L152.8 734.6M157.8 736.2L154.7 740.5M157.8 736.2L160.9 740.5M157.8 736.2L162.9 734.6 M159.8 734.5L159.8 729.2M159.8 734.5L154.7 732.8M159.8 734.5L156.7 738.8M159.8 734.5L162.9 738.8M159.8 734.5L164.8 732.8 M161.1 733.4L161.1 728.1M161.1 733.4L156.1 731.8M161.1 733.4L158.0 737.7M161.1 733.4L164.2 737.7M161.1 733.4L166.2 731.8 M162.3 733.6L162.3 728.3M162.3 733.6L157.2 732.0M162.3 733.6L159.2 737.9M162.3 733.6L165.4 737.9M162.3 733.6L167.3 732.0 M164.0 731.3L164.0 726.0M164.0 731.3L159.0 729.7M164.0 731.3L160.9 735.6M164.0 731.3L167.1 735.6M164.0 731.3L169.0 729.7 M165.6 727.2L165.6 721.9M165.6 727.2L160.5 725.5M165.6 727.2L162.4 731.4M165.6 727.2L168.7 731.4M165.6 727.2L170.6 725.5 M167.9 727.1L167.9 721.8M167.9 727.1L162.9 725.5M167.9 727.1L164.8 731.4M167.9 727.1L171.1 731.4M167.9 727.1L173.0 725.5 M169.6 723.1L169.6 717.8M169.6 723.1L164.5 721.5M169.6 723.1L166.4 727.4M169.6 723.1L172.7 727.4M169.6 723.1L174.6 721.5 M184.4 702.9L184.4 697.6M184.4 702.9L179.4 701.2M184.4 702.9L181.3 707.2M184.4 702.9L187.5 707.2M184.4 702.9L189.4 701.2 M187.3 700.7L187.3 695.4M187.3 700.7L182.2 699.0M187.3 700.7L184.2 705.0M187.3 700.7L190.4 705.0M187.3 700.7L192.3 699.0 M189.6 706.6L189.6 701.3M189.6 706.6L184.6 705.0M189.6 706.6L186.5 710.9M189.6 706.6L192.7 710.9M189.6 706.6L194.6 705.0 M191.9 705.4L191.9 700.1M191.9 705.4L186.9 703.7M191.9 705.4L188.8 709.7M191.9 705.4L195.0 709.7M191.9 705.4L197.0 703.7 M194.2 707.4L194.2 702.1M194.2 707.4L189.1 705.7M194.2 707.4L191.0 711.7M194.2 707.4L197.3 711.7M194.2 707.4L199.2 705.7 M197.1 705.7L197.1 700.4M197.1 705.7L192.1 704.0M197.1 705.7L194.0 710.0M197.1 705.7L200.3 710.0M197.1 705.7L202.2 704.0 M199.1 708.9L199.1 703.6M199.1 708.9L194.1 707.2M199.1 708.9L196.0 713.2M199.1 708.9L202.2 713.2M199.1 708.9L204.2 707.2 M201.0 711.7L201.0 706.4M201.0 711.7L195.9 710.1M201.0 711.7L197.9 716.0M201.0 711.7L204.1 716.0M201.0 711.7L206.0 710.1 M204.0 714.1L204.0 708.8M204.0 714.1L198.9 712.5M204.0 714.1L200.9 718.4M204.0 714.1L207.1 718.4M204.0 714.1L209.0 712.5 M205.9 713.4L205.9 708.1M205.9 713.4L200.9 711.8M205.9 713.4L202.8 717.7M205.9 713.4L209.0 717.7M205.9 713.4L211.0 711.8 M208.9 710.3L208.9 705.0M208.9 710.3L203.9 708.6M208.9 710.3L205.8 714.6M208.9 710.3L212.0 714.6M208.9 710.3L213.9 708.6 M211.9 714.2L211.9 708.9M211.9 714.2L206.9 712.6M211.9 714.2L208.8 718.5M211.9 714.2L215.0 718.5M211.9 714.2L217.0 712.6 M213.1 716.0L213.1 710.7M213.1 716.0L208.1 714.4M213.1 716.0L210.0 720.3M213.1 716.0L216.2 720.3M213.1 716.0L218.2 714.4 M216.4 713.1L216.4 707.8M216.4 713.1L211.4 711.4M216.4 713.1L213.3 717.4M216.4 713.1L219.5 717.4M216.4 713.1L221.5 711.4 M219.0 717.6L219.0 712.3M219.0 717.6L214.0 715.9M219.0 717.6L215.9 721.9M219.0 717.6L222.1 721.9M219.0 717.6L224.1 715.9 M221.1 714.9L221.1 709.6M221.1 714.9L216.1 713.3M221.1 714.9L218.0 719.2M221.1 714.9L224.2 719.2M221.1 714.9L226.2 713.3 M224.4 721.5L224.4 716.2M224.4 721.5L219.4 719.9M224.4 721.5L221.3 725.8M224.4 721.5L227.5 725.8M224.4 721.5L229.4 719.9 M226.4 720.9L226.4 715.6M226.4 720.9L221.4 719.3M226.4 720.9L223.3 725.2M226.4 720.9L229.5 725.2M226.4 720.9L231.4 719.3 M228.0 717.1L228.0 711.8M228.0 717.1L222.9 715.5M228.0 717.1L224.8 721.4M228.0 717.1L231.1 721.4M228.0 717.1L233.0 715.5 M231.8 719.4L231.8 714.1M231.8 719.4L226.7 717.8M231.8 719.4L228.6 723.7M231.8 719.4L234.9 723.7M231.8 719.4L236.8 717.8 M233.3 725.6L233.3 720.3M233.3 725.6L228.3 723.9M233.3 725.6L230.2 729.9M233.3 725.6L236.5 729.9M233.3 725.6L238.4 723.9 M236.0 723.4L236.0 718.1M236.0 723.4L231.0 721.7M236.0 723.4L232.9 727.6M236.0 723.4L239.2 727.6M236.0 723.4L241.1 721.7 M239.1 727.8L239.1 722.5M239.1 727.8L234.1 726.2M239.1 727.8L236.0 732.1M239.1 727.8L242.2 732.1M239.1 727.8L244.2 726.2 M241.2 724.4L241.2 719.1M241.2 724.4L236.1 722.8M241.2 724.4L238.1 728.7M241.2 724.4L244.3 728.7M241.2 724.4L246.2 722.8 M243.2 724.3L243.2 719.0M243.2 724.3L238.2 722.7M243.2 724.3L240.1 728.6M243.2 724.3L246.3 728.6M243.2 724.3L248.3 722.7 M156.0 727.0L156.0 721.7M156.0 727.0L151.0 725.4M156.0 727.0L152.9 731.3M156.0 727.0L159.1 731.3M156.0 727.0L161.0 725.4 M160.0 725.0L160.0 719.7M160.0 725.0L155.0 723.4M160.0 725.0L156.9 729.3M160.0 725.0L163.1 729.3M160.0 725.0L165.0 723.4 M175.0 716.0L175.0 710.7M175.0 716.0L170.0 714.4M175.0 716.0L171.9 720.3M175.0 716.0L178.1 720.3M175.0 716.0L180.0 714.4 M172.0 720.0L172.0 714.7M172.0 720.0L167.0 718.4M172.0 720.0L168.9 724.3M172.0 720.0L175.1 724.3M172.0 720.0L177.0 718.4 M177.0 714.0L177.0 708.7M177.0 714.0L172.0 712.4M177.0 714.0L173.9 718.3M177.0 714.0L180.1 718.3M177.0 714.0L182.0 712.4 M216.0 722.0L216.0 716.7M216.0 722.0L211.0 720.4M216.0 722.0L212.9 726.3M216.0 722.0L219.1 726.3M216.0 722.0L221.0 720.4 M235.0 716.0L235.0 710.7M235.0 716.0L230.0 714.4M235.0 716.0L231.9 720.3M235.0 716.0L238.1 720.3M235.0 716.0L240.0 714.4" fill="none" stroke="#999" stroke-width="1.2"/>
<path d="M80.6 758.7 L82.2 758.5 L83.8 758.4 L85.4 758.2 L87.0 758.0 L88.6 757.9 L90.1 757.7 L91.7 757.5 L93.3 757.3 L94.9 757.1 L96.5 756.9 L98.1 756.7 L99.7 756.5 L101.3 756.2 L102.9 756.0 L104.5 755.8 L106.1 755.5 L107.7 755.3 L109.2 755.1 L110.8 754.8 L112.4 754.6 L114.0 754.4 L115.6 754.1 L117.2 753.8 L118.8 753.6 L120.4 753.3 L122.0 752.9 L123.6 752.6 L125.2 752.3 L126.8 751.9 L128.3 751.5 L129.9 751.0 L131.5 750.5 L133.1 750.0 L134.7 749.4 L136.3 748.8 L137.9 748.1 L139.5 747.4 L141.1 746.6 L142.7 745.8 L144.3 745.0 L145.9 744.2 L147.4 743.3 L149.0 742.4 L150.6 741.4 L152.2 740.4 L153.8 739.2 L155.4 738.0 L157.0 736.7 L158.6 735.3 L160.2 733.8 L161.8 732.2 L163.4 730.6 L165.0 728.8 L166.5 726.7 L168.1 724.4 L169.7 721.5 L171.3 717.8 L172.9 712.4 L174.5 704.0" fill="none" stroke="#000" stroke-width="1.5"/>
<path d="M176.0 660.5 L177.6 670.8 L179.2 678.1 L180.7 684.0 L182.3 690.1 L183.9 693.6 L185.5 695.8 L187.1 697.5 L188.6 698.9 L190.2 700.2 L191.8 701.4 L193.4 702.6 L195.0 703.6 L196.5 704.6 L198.1 705.6 L199.7 706.5 L201.3 707.3 L202.9 708.2 L204.4 709.1 L206.0 710.0 L207.6 711.0 L209.2 711.9 L210.8 712.8 L212.4 713.7 L213.9 714.7 L215.5 715.5 L217.1 716.4 L218.7 717.3 L220.3 718.1 L221.8 718.9 L223.4 719.7 L225.0 720.5 L226.6 721.2 L228.2 722.0 L229.7 722.7 L231.3 723.5 L232.9 724.2 L234.5 724.8 L236.1 725.5 L237.6 726.1 L239.2 726.7 L240.8 727.3 L242.4 727.8 L244.0 728.3 L245.5 728.8 L247.1 729.3 L248.7 729.8 L250.3 730.2 L251.9 730.6 L253.4 731.1 L255.0 731.5 L256.6 731.9 L258.2 732.3 L259.8 732.8 L261.3 733.1 L262.9 733.5 L264.5 733.9 L266.1 734.3 L267.7 734.6 L269.2 735.0" fill="none" stroke="#000" stroke-width="1.5"/>
<path d="M124.1 749.1L129.6 743.6L135.1 749.1L129.6 754.6Z M125.5 750.2L131.0 744.7L136.5 750.2L131.0 755.7Z M126.8 748.2L132.3 742.7L137.8 748.2L132.3 753.7Z M128.1 745.7L133.6 740.2L139.1 745.7L133.6 751.2Z M129.3 747.3L134.8 741.8L140.3 747.3L134.8 752.8Z M131.0 745.9L136.5 740.4L142.0 745.9L136.5 751.4Z M131.9 748.6L137.4 743.1L142.9 748.6L137.4 754.1Z M133.4 749.4L138.9 743.9L144.4 749.4L138.9 754.9Z M135.0 745.4L140.5 739.9L146.0 745.4L140.5 750.9Z M135.9 744.7L141.4 739.2L146.9 744.7L141.4 750.2Z M137.5 746.0L143.0 740.5L148.5 746.0L143.0 751.5Z M138.8 744.0L144.3 738.5L149.8 744.0L144.3 749.5Z M140.2 742.6L145.7 737.1L151.2 742.6L145.7 748.1Z M141.7 741.7L147.2 736.2L152.7 741.7L147.2 747.2Z M142.5 741.6L148.0 736.1L153.5 741.6L148.0 747.1Z M143.6 742.7L149.1 737.2L154.6 742.7L149.1 748.2Z M145.4 744.0L150.9 738.5L156.4 744.0L150.9 749.5Z M146.8 740.3L152.3 734.8L157.8 740.3L152.3 745.8Z M148.1 734.4L153.6 728.9L159.1 734.4L153.6 739.9Z M149.4 735.6L154.9 730.1L160.4 735.6L154.9 741.1Z M150.7 734.8L156.2 729.3L161.7 734.8L156.2 740.3Z M152.1 736.6L157.6 731.1L163.1 736.6L157.6 742.1Z M153.2 737.9L158.7 732.4L164.2 737.9L158.7 743.4Z M154.8 735.0L160.3 729.5L165.8 735.0L160.3 740.5Z M155.5 734.2L161.0 728.7L166.5 734.2L161.0 739.7Z M157.4 734.3L162.9 728.8L168.4 734.3L162.9 739.8Z M158.4 729.6L163.9 724.1L169.4 729.6L163.9 735.1Z M160.1 729.9L165.6 724.4L171.1 729.9L165.6 735.4Z M161.0 726.0L166.5 720.5L172.0 726.0L166.5 731.5Z M162.4 725.3L167.9 719.8L173.4 725.3L167.9 730.8Z M163.8 725.8L169.3 720.3L174.8 725.8L169.3 731.3Z M178.4 702.4L183.9 696.9L189.4 702.4L183.9 707.9Z M179.9 702.7L185.4 697.2L190.9 702.7L185.4 708.2Z M181.0 706.3L186.5 700.8L192.0 706.3L186.5 711.8Z M183.1 707.5L188.6 702.0L194.1 707.5L188.6 713.0Z M185.0 705.9L190.5 700.4L196.0 705.9L190.5 711.4Z M186.1 706.8L191.6 701.3L197.1 706.8L191.6 712.3Z M187.9 712.2L193.4 706.7L198.9 712.2L193.4 717.7Z M189.3 705.7L194.8 700.2L200.3 705.7L194.8 711.2Z M190.9 710.3L196.4 704.8L201.9 710.3L196.4 715.8Z M192.3 710.2L197.8 704.7L203.3 710.2L197.8 715.7Z M193.8 709.3L199.3 703.8L204.8 709.3L199.3 714.8Z M195.9 710.1L201.4 704.6L206.9 710.1L201.4 715.6Z M196.9 711.4L202.4 705.9L207.9 711.4L202.4 716.9Z M199.2 711.7L204.7 706.2L210.2 711.7L204.7 717.2Z M200.1 715.3L205.6 709.8L211.1 715.3L205.6 720.8Z M201.8 713.2L207.3 707.7L212.8 713.2L207.3 718.7Z M203.8 713.7L209.3 708.2L214.8 713.7L209.3 719.2Z M205.4 714.5L210.9 709.0L216.4 714.5L210.9 720.0Z M207.0 716.2L212.5 710.7L218.0 716.2L212.5 721.7Z M208.0 712.1L213.5 706.6L219.0 712.1L213.5 717.6Z M210.1 714.6L215.6 709.1L221.1 714.6L215.6 720.1Z M211.9 713.7L217.4 708.2L222.9 713.7L217.4 719.2Z M212.9 719.0L218.4 713.5L223.9 719.0L218.4 724.5Z M214.2 715.8L219.7 710.3L225.2 715.8L219.7 721.3Z M215.8 715.0L221.3 709.5L226.8 715.0L221.3 720.5Z M217.4 714.8L222.9 709.3L228.4 714.8L222.9 720.3Z M219.2 718.3L224.7 712.8L230.2 718.3L224.7 723.8Z M221.3 718.4L226.8 712.9L232.3 718.4L226.8 723.9Z M222.6 721.8L228.1 716.3L233.6 721.8L228.1 727.3Z M224.2 721.6L229.7 716.1L235.2 721.6L229.7 727.1Z M225.7 721.1L231.2 715.6L236.7 721.1L231.2 726.6Z M227.6 721.5L233.1 716.0L238.6 721.5L233.1 727.0Z M228.8 721.4L234.3 715.9L239.8 721.4L234.3 726.9Z M230.4 721.5L235.9 716.0L241.4 721.5L235.9 727.0Z M232.0 725.0L237.5 719.5L243.0 725.0L237.5 730.5Z M233.9 719.5L239.4 714.0L244.9 719.5L239.4 725.0Z M235.3 723.5L240.8 718.0L246.3 723.5L240.8 729.0Z M237.3 723.6L242.8 718.1L248.3 723.6L242.8 729.1Z M238.6 723.1L244.1 717.6L249.6 723.1L244.1 728.6Z M169.5 705.0L175.0 699.5L180.5 705.0L175.0 710.5Z M175.5 700.0L181.0 694.5L186.5 700.0L181.0 705.5Z M172.5 702.0L178.0 696.5L183.5 702.0L178.0 707.5Z M167.9 739.7L173.4 734.2L178.9 739.7L173.4 745.2Z M170.5 731.7L176.0 726.2L181.5 731.7L176.0 737.2Z M166.5 727.0L172.0 721.5L177.5 727.0L172.0 732.5Z" fill="none" stroke="#000" stroke-width="1.4" stroke-linejoin="miter"/>
<rect x="80.6" y="634.9" width="188.7" height="141.1" fill="none" stroke="#000" stroke-width="1.7" stroke-linejoin="round"/>
<path d="M80.6 776.0v-7.4M80.6 634.9v7.4M92.4 776.0v-3.9M92.4 634.9v3.9M104.2 776.0v-3.9M104.2 634.9v3.9M116.0 776.0v-3.9M116.0 634.9v3.9M127.8 776.0v-7.4M127.8 634.9v7.4M139.6 776.0v-3.9M139.6 634.9v3.9M151.3 776.0v-3.9M151.3 634.9v3.9M163.1 776.0v-3.9M163.1 634.9v3.9M174.9 776.0v-7.4M174.9 634.9v7.4M186.7 776.0v-3.9M186.7 634.9v3.9M198.5 776.0v-3.9M198.5 634.9v3.9M210.3 776.0v-3.9M210.3 634.9v3.9M222.1 776.0v-7.4M222.1 634.9v7.4M233.9 776.0v-3.9M233.9 634.9v3.9M245.7 776.0v-3.9M245.7 634.9v3.9M257.5 776.0v-3.9M257.5 634.9v3.9M269.2 776.0v-7.4M269.2 634.9v7.4M80.6 776.0h9.3M269.2 776.0h-9.3M80.6 768.9h5.0M269.2 768.9h-5.0M80.6 761.9h5.0M269.2 761.9h-5.0M80.6 754.8h5.0M269.2 754.8h-5.0M80.6 747.8h9.3M269.2 747.8h-9.3M80.6 740.7h5.0M269.2 740.7h-5.0M80.6 733.7h5.0M269.2 733.7h-5.0M80.6 726.6h5.0M269.2 726.6h-5.0M80.6 719.6h9.3M269.2 719.6h-9.3M80.6 712.5h5.0M269.2 712.5h-5.0M80.6 705.5h5.0M269.2 705.5h-5.0M80.6 698.4h5.0M269.2 698.4h-5.0M80.6 691.3h9.3M269.2 691.3h-9.3M80.6 684.3h5.0M269.2 684.3h-5.0M80.6 677.2h5.0M269.2 677.2h-5.0M80.6 670.2h5.0M269.2 670.2h-5.0M80.6 663.1h9.3M269.2 663.1h-9.3M80.6 656.1h5.0M269.2 656.1h-5.0M80.6 649.0h5.0M269.2 649.0h-5.0M80.6 642.0h5.0M269.2 642.0h-5.0M80.6 634.9h9.3M269.2 634.9h-9.3" fill="none" stroke="#000" stroke-width="1.4"/>
<text x="58.60" y="793.80" font-size="14.0" textLength="13.53" lengthAdjust="spacing">−4</text><text x="73.02" y="793.80" font-size="14.0">×</text><text x="95.77" y="793.80" font-size="14.0" text-anchor="end">10</text><text x="97.38" y="786.80" font-size="8.7">4</text>
<text x="105.76" y="793.80" font-size="14.0" textLength="13.81" lengthAdjust="spacing">−2</text><text x="120.18" y="793.80" font-size="14.0">×</text><text x="142.94" y="793.80" font-size="14.0" text-anchor="end">10</text><text x="144.54" y="786.80" font-size="8.7">4</text>
<text x="171.12" y="793.80" font-size="14.0">0</text>
<text x="202.29" y="793.80" font-size="14.0">2</text><text x="210.51" y="793.80" font-size="14.0">×</text><text x="233.26" y="793.80" font-size="14.0" text-anchor="end">10</text><text x="234.37" y="786.80" font-size="8.7">4</text>
<text x="249.80" y="793.80" font-size="14.0">4</text><text x="257.67" y="793.80" font-size="14.0">×</text><text x="280.42" y="793.80" font-size="14.0" text-anchor="end">10</text><text x="281.53" y="786.80" font-size="8.7">4</text>
<text x="66.14" y="780.80" font-size="14.0">0</text>
<text x="38.00" y="754.48" font-size="14.0" textLength="29.07" lengthAdjust="spacing">2×10</text><text x="68.31" y="747.18" font-size="8.7">9</text>
<text x="38.35" y="726.26" font-size="14.0" textLength="28.72" lengthAdjust="spacing">4×10</text><text x="68.31" y="718.96" font-size="8.7">9</text>
<text x="38.00" y="698.04" font-size="14.0" textLength="29.07" lengthAdjust="spacing">6×10</text><text x="68.31" y="690.74" font-size="8.7">9</text>
<text x="38.07" y="669.82" font-size="14.0" textLength="29.00" lengthAdjust="spacing">8×10</text><text x="68.31" y="662.52" font-size="8.7">9</text>
<text x="34.66" y="641.60" font-size="14.0" textLength="28.11" lengthAdjust="spacing">1×10</text><text x="73.26" y="634.30" font-size="8.7" text-anchor="end">10</text>
<text x="80.98" y="808.10" font-size="14.0" textLength="184.28" lengthAdjust="spacingAndGlyphs">Cometocentric Distance (km)</text>
<g transform="translate(16.2 795.1) rotate(-90) scale(1.0 1)"><text x="0" y="0" font-size="14.0" textLength="132.3" lengthAdjust="spacingAndGlyphs">Column Density of C</text><text x="133.6" y="3.3" font-size="5.4">2</text><text x="141.5" y="0" font-size="14.0" textLength="24.2" lengthAdjust="spacingAndGlyphs">(cm</text><text x="166.4" y="-6.2" font-size="8.7">−2</text><text x="175.6" y="0" font-size="14.0">)</text></g>
<text x="112.86" y="659.40" font-size="15.8">165</text>
<text x="139.17" y="651.60" font-size="8.7">o</text>
<text x="207.97" y="659.40" font-size="15.8">345</text>
<text x="234.27" y="651.60" font-size="8.7">o</text>
</g>
</svg></body></html>
